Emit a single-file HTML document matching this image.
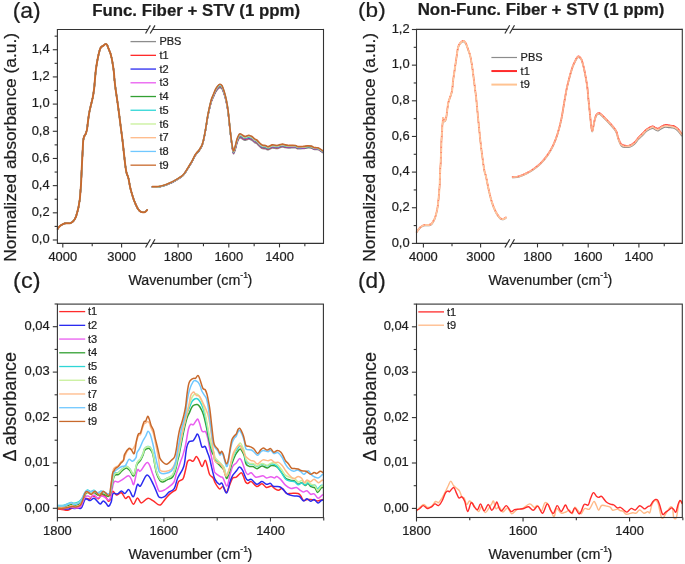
<!DOCTYPE html>
<html><head><meta charset="utf-8"><title>FTIR spectra</title>
<style>
html,body{margin:0;padding:0;background:#fff;}
svg{display:block;will-change:transform;}
text{font-family:'Liberation Sans', sans-serif;stroke:#1e1e1e;stroke-width:0.22px;}
</style></head>
<body>
<svg width="685" height="564" viewBox="0 0 685 564">
<rect width="685" height="564" fill="#fff"/>
<path d="M57.6,229 C57.83,228.67 58.37,227.67 59,227 C59.63,226.33 60.65,225.53 61.4,225 C62.15,224.47 62.8,224.08 63.5,223.8 C64.2,223.52 64.88,223.4 65.6,223.3 C66.32,223.2 67.08,223.2 67.8,223.2 C68.52,223.2 69.2,223.45 69.9,223.3 C70.6,223.15 71.35,222.77 72,222.3 C72.65,221.83 73.27,221.15 73.8,220.5 C74.33,219.85 74.78,219.22 75.2,218.4 C75.62,217.58 75.95,216.67 76.3,215.6 C76.65,214.53 76.95,213.3 77.3,212 C77.65,210.7 78.1,209.22 78.4,207.8 C78.7,206.38 78.87,204.92 79.1,203.5 C79.33,202.08 79.6,200.97 79.8,199.3 C80,197.63 80.1,195.95 80.3,193.5 C80.5,191.05 80.8,187.85 81,184.6 C81.2,181.35 81.33,177.55 81.5,174 C81.67,170.45 81.82,166.97 82,163.3 C82.18,159.63 82.42,155.55 82.6,152 C82.78,148.45 82.93,144.25 83.1,142 C83.27,139.75 83.43,139.38 83.6,138.5 C83.77,137.62 83.87,137.28 84.1,136.7 C84.33,136.12 84.7,135.53 85,135 C85.3,134.47 85.65,134.13 85.9,133.5 C86.15,132.87 86.32,131.85 86.5,131.2 C86.68,130.55 86.7,131.63 87,129.6 C87.3,127.57 87.9,121.95 88.3,119 C88.7,116.05 88.95,114.27 89.4,111.9 C89.85,109.53 90.45,107.17 91,104.8 C91.55,102.43 92.18,100.35 92.7,97.7 C93.22,95.05 93.73,91.85 94.1,88.9 C94.47,85.95 94.62,83.07 94.9,80 C95.18,76.93 95.45,73.42 95.8,70.5 C96.15,67.58 96.6,64.87 97,62.5 C97.4,60.13 97.77,58.3 98.2,56.3 C98.63,54.3 99.15,51.98 99.6,50.5 C100.05,49.02 100.27,48.22 100.9,47.4 C101.53,46.58 102.55,46.18 103.4,45.6 C104.25,45.02 105.33,43.9 106,43.9 C106.67,43.9 106.95,44.72 107.4,45.6 C107.85,46.48 108.18,47.87 108.7,49.2 C109.22,50.53 109.98,51.98 110.5,53.6 C111.02,55.22 111.4,56.98 111.8,58.9 C112.2,60.82 112.53,62.73 112.9,65.1 C113.27,67.47 113.73,70.62 114,73.1 C114.27,75.58 114.2,77.08 114.5,80 C114.8,82.92 115.28,86.77 115.8,90.6 C116.32,94.43 117.02,98.85 117.6,103 C118.18,107.15 118.72,111.07 119.3,115.5 C119.88,119.93 120.53,125.18 121.1,129.6 C121.67,134.02 122.08,136.73 122.7,142 C123.32,147.27 124.2,156.23 124.8,161.2 C125.4,166.17 125.7,168.97 126.3,171.8 C126.9,174.63 127.7,175.37 128.4,178.2 C129.1,181.03 129.62,185.25 130.5,188.8 C131.38,192.35 132.78,196.8 133.7,199.5 C134.62,202.2 135.28,203.42 136,205 C136.72,206.58 137.33,207.97 138,209 C138.67,210.03 139.3,210.67 140,211.2 C140.7,211.73 141.53,212.02 142.2,212.2 C142.87,212.38 143.47,212.37 144,212.3 C144.53,212.23 144.87,212.2 145.4,211.8 C145.93,211.4 146.9,210.22 147.2,209.9" fill="none" stroke="#8c8c8c" stroke-width="1.4" stroke-linejoin="round" stroke-linecap="round"/>
<path d="M152.3,187.12 C152.9,187.12 154.65,187.18 155.9,187.14 C157.15,187.1 158.35,187.13 159.8,186.87 C161.25,186.62 162.98,186.15 164.6,185.61 C166.22,185.07 167.87,184.37 169.5,183.65 C171.13,182.93 172.77,182.15 174.4,181.28 C176.03,180.41 177.83,179.39 179.3,178.42 C180.77,177.45 182.07,176.59 183.2,175.45 C184.33,174.31 185.13,173.01 186.1,171.57 C187.07,170.13 188.02,168.4 189,166.79 C189.98,165.19 191.1,163.55 192,161.93 C192.9,160.3 193.68,158.35 194.4,157.06 C195.12,155.77 195.57,155.14 196.3,154.18 C197.03,153.23 198.07,152.29 198.8,151.32 C199.53,150.34 200.13,149.32 200.7,148.34 C201.27,147.37 201.68,146.94 202.2,145.46 C202.72,143.99 203.22,142.15 203.8,139.48 C204.38,136.81 205.08,132.95 205.7,129.44 C206.32,125.93 206.92,121.6 207.5,118.4 C208.08,115.2 208.57,112.96 209.2,110.24 C209.83,107.52 210.58,104.28 211.3,102.06 C212.02,99.84 212.78,98.53 213.5,96.9 C214.22,95.27 214.9,93.55 215.6,92.26 C216.3,90.97 216.98,89.93 217.7,89.17 C218.42,88.41 219.18,87.76 219.9,87.69 C220.62,87.62 221.3,87.7 222,88.77 C222.7,89.84 223.38,91.87 224.1,94.12 C224.82,96.36 225.65,99.28 226.3,102.24 C226.95,105.2 227.48,108.2 228,111.9 C228.52,115.6 228.93,120.25 229.4,124.42 C229.87,128.59 230.33,133.11 230.8,136.94 C231.27,140.77 231.77,144.61 232.2,147.4 C232.63,150.19 232.92,153.22 233.4,153.7 C233.88,154.17 234.52,151.93 235.1,150.25 C235.68,148.57 236.33,145.39 236.9,143.6 C237.47,141.81 237.98,140.48 238.5,139.5 C239.02,138.52 239.38,137.8 240,137.7 C240.62,137.6 241.42,138.45 242.2,138.9 C242.98,139.35 243.97,140.24 244.7,140.4 C245.43,140.56 245.92,140.05 246.6,139.84 C247.28,139.64 248.08,139.17 248.8,139.17 C249.52,139.16 250.23,139.52 250.9,139.79 C251.57,140.07 252.18,140.36 252.8,140.82 C253.42,141.29 253.93,142.1 254.6,142.56 C255.27,143.02 256.13,143.11 256.8,143.58 C257.47,144.06 257.93,144.76 258.6,145.42 C259.27,146.08 260.13,147.01 260.8,147.54 C261.47,148.07 261.82,148.37 262.6,148.59 C263.38,148.8 264.65,148.61 265.5,148.82 C266.35,149.04 266.97,149.82 267.7,149.87 C268.43,149.92 269.17,149.42 269.9,149.12 C270.63,148.82 271.25,148.21 272.1,148.08 C272.95,147.94 274.15,148.23 275,148.31 C275.85,148.39 276.35,148.68 277.2,148.56 C278.05,148.44 279.18,147.86 280.1,147.6 C281.02,147.33 281.83,146.97 282.7,146.98 C283.57,146.99 284.38,147.49 285.3,147.66 C286.22,147.84 287.37,147.99 288.2,148.04 C289.03,148.08 289.08,147.98 290.3,147.94 C291.52,147.9 294.2,147.67 295.5,147.81 C296.8,147.95 296.78,148.68 298.1,148.8 C299.42,148.92 301.87,148.66 303.4,148.52 C304.93,148.38 305.98,148.03 307.3,147.96 C308.62,147.89 310.2,147.86 311.3,148.1 C312.4,148.33 313.03,149.1 313.9,149.36 C314.77,149.61 315.73,149.53 316.5,149.62 C317.27,149.71 317.78,149.62 318.5,149.89 C319.22,150.17 320.07,150.79 320.8,151.26 C321.53,151.73 322.55,152.49 322.9,152.73" fill="none" stroke="#8c8c8c" stroke-width="1.4" stroke-linejoin="round" stroke-linecap="round"/>
<path d="M57.6,229 C57.83,228.67 58.37,227.67 59,227 C59.63,226.33 60.65,225.53 61.4,225 C62.15,224.47 62.8,224.08 63.5,223.8 C64.2,223.52 64.88,223.4 65.6,223.3 C66.32,223.2 67.08,223.2 67.8,223.2 C68.52,223.2 69.2,223.45 69.9,223.3 C70.6,223.15 71.35,222.77 72,222.3 C72.65,221.83 73.27,221.15 73.8,220.5 C74.33,219.85 74.78,219.22 75.2,218.4 C75.62,217.58 75.95,216.67 76.3,215.6 C76.65,214.53 76.95,213.3 77.3,212 C77.65,210.7 78.1,209.22 78.4,207.8 C78.7,206.38 78.87,204.92 79.1,203.5 C79.33,202.08 79.6,200.97 79.8,199.3 C80,197.63 80.1,195.95 80.3,193.5 C80.5,191.05 80.8,187.85 81,184.6 C81.2,181.35 81.33,177.55 81.5,174 C81.67,170.45 81.82,166.97 82,163.3 C82.18,159.63 82.42,155.55 82.6,152 C82.78,148.45 82.93,144.25 83.1,142 C83.27,139.75 83.43,139.38 83.6,138.5 C83.77,137.62 83.87,137.28 84.1,136.7 C84.33,136.12 84.7,135.53 85,135 C85.3,134.47 85.65,134.13 85.9,133.5 C86.15,132.87 86.32,131.85 86.5,131.2 C86.68,130.55 86.7,131.63 87,129.6 C87.3,127.57 87.9,121.95 88.3,119 C88.7,116.05 88.95,114.27 89.4,111.9 C89.85,109.53 90.45,107.17 91,104.8 C91.55,102.43 92.18,100.35 92.7,97.7 C93.22,95.05 93.73,91.85 94.1,88.9 C94.47,85.95 94.62,83.07 94.9,80 C95.18,76.93 95.45,73.42 95.8,70.5 C96.15,67.58 96.6,64.87 97,62.5 C97.4,60.13 97.77,58.3 98.2,56.3 C98.63,54.3 99.15,51.98 99.6,50.5 C100.05,49.02 100.27,48.22 100.9,47.4 C101.53,46.58 102.55,46.18 103.4,45.6 C104.25,45.02 105.33,43.9 106,43.9 C106.67,43.9 106.95,44.72 107.4,45.6 C107.85,46.48 108.18,47.87 108.7,49.2 C109.22,50.53 109.98,51.98 110.5,53.6 C111.02,55.22 111.4,56.98 111.8,58.9 C112.2,60.82 112.53,62.73 112.9,65.1 C113.27,67.47 113.73,70.62 114,73.1 C114.27,75.58 114.2,77.08 114.5,80 C114.8,82.92 115.28,86.77 115.8,90.6 C116.32,94.43 117.02,98.85 117.6,103 C118.18,107.15 118.72,111.07 119.3,115.5 C119.88,119.93 120.53,125.18 121.1,129.6 C121.67,134.02 122.08,136.73 122.7,142 C123.32,147.27 124.2,156.23 124.8,161.2 C125.4,166.17 125.7,168.97 126.3,171.8 C126.9,174.63 127.7,175.37 128.4,178.2 C129.1,181.03 129.62,185.25 130.5,188.8 C131.38,192.35 132.78,196.8 133.7,199.5 C134.62,202.2 135.28,203.42 136,205 C136.72,206.58 137.33,207.97 138,209 C138.67,210.03 139.3,210.67 140,211.2 C140.7,211.73 141.53,212.02 142.2,212.2 C142.87,212.38 143.47,212.37 144,212.3 C144.53,212.23 144.87,212.2 145.4,211.8 C145.93,211.4 146.9,210.22 147.2,209.9" fill="none" stroke="#ff2b2b" stroke-width="1.4" stroke-linejoin="round" stroke-linecap="round"/>
<path d="M152.3,186.97 C152.9,186.98 154.65,187.04 155.9,186.99 C157.15,186.95 158.35,186.97 159.8,186.71 C161.25,186.45 162.98,185.98 164.6,185.44 C166.22,184.9 167.87,184.19 169.5,183.47 C171.13,182.74 172.77,181.97 174.4,181.09 C176.03,180.22 177.83,179.19 179.3,178.22 C180.77,177.24 182.07,176.38 183.2,175.24 C184.33,174.1 185.13,172.8 186.1,171.35 C187.07,169.91 188.02,168.18 189,166.57 C189.98,164.96 191.1,163.32 192,161.7 C192.9,160.07 193.68,158.11 194.4,156.82 C195.12,155.53 195.57,154.9 196.3,153.94 C197.03,152.98 198.07,152.04 198.8,151.06 C199.53,150.08 200.13,149.06 200.7,148.08 C201.27,147.1 201.68,146.67 202.2,145.19 C202.72,143.71 203.22,141.89 203.8,139.21 C204.38,136.53 205.08,132.66 205.7,129.12 C206.32,125.58 206.92,121.21 207.5,117.98 C208.08,114.75 208.57,112.48 209.2,109.72 C209.83,106.97 210.58,103.69 211.3,101.43 C212.02,99.16 212.78,97.81 213.5,96.14 C214.22,94.47 214.9,92.72 215.6,91.4 C216.3,90.09 216.98,89.04 217.7,88.25 C218.42,87.47 219.18,86.78 219.9,86.71 C220.62,86.65 221.3,86.78 222,87.88 C222.7,88.98 223.38,91.05 224.1,93.33 C224.82,95.61 225.65,98.56 226.3,101.56 C226.95,104.55 227.48,107.59 228,111.31 C228.52,115.04 228.93,119.71 229.4,123.91 C229.87,128.11 230.33,132.69 230.8,136.51 C231.27,140.33 231.77,144.07 232.2,146.81 C232.63,149.55 232.92,152.54 233.4,152.94 C233.88,153.35 234.52,151 235.1,149.26 C235.68,147.51 236.33,144.29 236.9,142.48 C237.47,140.67 237.98,139.36 238.5,138.38 C239.02,137.4 239.38,136.68 240,136.58 C240.62,136.48 241.42,137.33 242.2,137.78 C242.98,138.23 243.97,139.12 244.7,139.28 C245.43,139.44 245.92,138.94 246.6,138.74 C247.28,138.54 248.08,138.08 248.8,138.08 C249.52,138.08 250.23,138.45 250.9,138.73 C251.57,139.01 252.18,139.31 252.8,139.78 C253.42,140.25 253.93,141.07 254.6,141.54 C255.27,142 256.13,142.1 256.8,142.58 C257.47,143.06 257.93,143.77 258.6,144.43 C259.27,145.1 260.13,146.04 260.8,146.58 C261.47,147.11 261.82,147.42 262.6,147.64 C263.38,147.86 264.65,147.67 265.5,147.89 C266.35,148.11 266.97,148.9 267.7,148.96 C268.43,149.01 269.17,148.52 269.9,148.22 C270.63,147.93 271.25,147.32 272.1,147.19 C272.95,147.06 274.15,147.35 275,147.44 C275.85,147.53 276.35,147.82 277.2,147.7 C278.05,147.59 279.18,147.01 280.1,146.76 C281.02,146.5 281.83,146.15 282.7,146.17 C283.57,146.2 284.38,146.7 285.3,146.89 C286.22,147.08 287.37,147.24 288.2,147.3 C289.03,147.35 289.08,147.25 290.3,147.23 C291.52,147.21 294.2,147.01 295.5,147.16 C296.8,147.32 296.78,148.06 298.1,148.18 C299.42,148.31 301.87,148.06 303.4,147.92 C304.93,147.79 305.98,147.45 307.3,147.38 C308.62,147.32 310.2,147.3 311.3,147.54 C312.4,147.78 313.03,148.55 313.9,148.81 C314.77,149.07 315.73,148.99 316.5,149.08 C317.27,149.18 317.78,149.09 318.5,149.36 C319.22,149.64 320.07,150.26 320.8,150.74 C321.53,151.21 322.55,151.97 322.9,152.22" fill="none" stroke="#ff2b2b" stroke-width="1.4" stroke-linejoin="round" stroke-linecap="round"/>
<path d="M57.6,229 C57.83,228.67 58.37,227.67 59,227 C59.63,226.33 60.65,225.53 61.4,225 C62.15,224.47 62.8,224.08 63.5,223.8 C64.2,223.52 64.88,223.4 65.6,223.3 C66.32,223.2 67.08,223.2 67.8,223.2 C68.52,223.2 69.2,223.45 69.9,223.3 C70.6,223.15 71.35,222.77 72,222.3 C72.65,221.83 73.27,221.15 73.8,220.5 C74.33,219.85 74.78,219.22 75.2,218.4 C75.62,217.58 75.95,216.67 76.3,215.6 C76.65,214.53 76.95,213.3 77.3,212 C77.65,210.7 78.1,209.22 78.4,207.8 C78.7,206.38 78.87,204.92 79.1,203.5 C79.33,202.08 79.6,200.97 79.8,199.3 C80,197.63 80.1,195.95 80.3,193.5 C80.5,191.05 80.8,187.85 81,184.6 C81.2,181.35 81.33,177.55 81.5,174 C81.67,170.45 81.82,166.97 82,163.3 C82.18,159.63 82.42,155.55 82.6,152 C82.78,148.45 82.93,144.25 83.1,142 C83.27,139.75 83.43,139.38 83.6,138.5 C83.77,137.62 83.87,137.28 84.1,136.7 C84.33,136.12 84.7,135.53 85,135 C85.3,134.47 85.65,134.13 85.9,133.5 C86.15,132.87 86.32,131.85 86.5,131.2 C86.68,130.55 86.7,131.63 87,129.6 C87.3,127.57 87.9,121.95 88.3,119 C88.7,116.05 88.95,114.27 89.4,111.9 C89.85,109.53 90.45,107.17 91,104.8 C91.55,102.43 92.18,100.35 92.7,97.7 C93.22,95.05 93.73,91.85 94.1,88.9 C94.47,85.95 94.62,83.07 94.9,80 C95.18,76.93 95.45,73.42 95.8,70.5 C96.15,67.58 96.6,64.87 97,62.5 C97.4,60.13 97.77,58.3 98.2,56.3 C98.63,54.3 99.15,51.98 99.6,50.5 C100.05,49.02 100.27,48.22 100.9,47.4 C101.53,46.58 102.55,46.18 103.4,45.6 C104.25,45.02 105.33,43.9 106,43.9 C106.67,43.9 106.95,44.72 107.4,45.6 C107.85,46.48 108.18,47.87 108.7,49.2 C109.22,50.53 109.98,51.98 110.5,53.6 C111.02,55.22 111.4,56.98 111.8,58.9 C112.2,60.82 112.53,62.73 112.9,65.1 C113.27,67.47 113.73,70.62 114,73.1 C114.27,75.58 114.2,77.08 114.5,80 C114.8,82.92 115.28,86.77 115.8,90.6 C116.32,94.43 117.02,98.85 117.6,103 C118.18,107.15 118.72,111.07 119.3,115.5 C119.88,119.93 120.53,125.18 121.1,129.6 C121.67,134.02 122.08,136.73 122.7,142 C123.32,147.27 124.2,156.23 124.8,161.2 C125.4,166.17 125.7,168.97 126.3,171.8 C126.9,174.63 127.7,175.37 128.4,178.2 C129.1,181.03 129.62,185.25 130.5,188.8 C131.38,192.35 132.78,196.8 133.7,199.5 C134.62,202.2 135.28,203.42 136,205 C136.72,206.58 137.33,207.97 138,209 C138.67,210.03 139.3,210.67 140,211.2 C140.7,211.73 141.53,212.02 142.2,212.2 C142.87,212.38 143.47,212.37 144,212.3 C144.53,212.23 144.87,212.2 145.4,211.8 C145.93,211.4 146.9,210.22 147.2,209.9" fill="none" stroke="#2a2af0" stroke-width="1.4" stroke-linejoin="round" stroke-linecap="round"/>
<path d="M152.3,186.93 C152.9,186.93 154.65,186.99 155.9,186.94 C157.15,186.9 158.35,186.92 159.8,186.66 C161.25,186.4 162.98,185.93 164.6,185.38 C166.22,184.84 167.87,184.13 169.5,183.41 C171.13,182.68 172.77,181.91 174.4,181.03 C176.03,180.15 177.83,179.13 179.3,178.15 C180.77,177.18 182.07,176.32 183.2,175.17 C184.33,174.03 185.13,172.73 186.1,171.29 C187.07,169.84 188.02,168.11 189,166.5 C189.98,164.89 191.1,163.25 192,161.62 C192.9,159.99 193.68,158.03 194.4,156.74 C195.12,155.45 195.57,154.82 196.3,153.86 C197.03,152.9 198.07,151.96 198.8,150.98 C199.53,150 200.13,148.97 200.7,147.99 C201.27,147.02 201.68,146.59 202.2,145.11 C202.72,143.63 203.22,141.8 203.8,139.12 C204.38,136.44 205.08,132.56 205.7,129.02 C206.32,125.47 206.92,121.09 207.5,117.84 C208.08,114.6 208.57,112.33 209.2,109.56 C209.83,106.79 210.58,103.5 211.3,101.22 C212.02,98.95 212.78,97.58 213.5,95.9 C214.22,94.22 214.9,92.45 215.6,91.13 C216.3,89.8 216.98,88.75 217.7,87.96 C218.42,87.17 219.18,86.46 219.9,86.4 C220.62,86.34 221.3,86.48 222,87.59 C222.7,88.71 223.38,90.78 224.1,93.07 C224.82,95.36 225.65,98.33 226.3,101.34 C226.95,104.35 227.48,107.39 228,111.12 C228.52,114.86 228.93,119.54 229.4,123.75 C229.87,127.95 230.33,132.56 230.8,136.37 C231.27,140.18 231.77,143.9 232.2,146.62 C232.63,149.34 232.92,152.32 233.4,152.7 C233.88,153.09 234.52,150.7 235.1,148.94 C235.68,147.17 236.33,143.94 236.9,142.12 C237.47,140.3 237.98,139 238.5,138.02 C239.02,137.04 239.38,136.32 240,136.22 C240.62,136.12 241.42,136.97 242.2,137.42 C242.98,137.87 243.97,138.76 244.7,138.92 C245.43,139.08 245.92,138.58 246.6,138.38 C247.28,138.19 248.08,137.73 248.8,137.74 C249.52,137.74 250.23,138.1 250.9,138.39 C251.57,138.67 252.18,138.98 252.8,139.45 C253.42,139.92 253.93,140.74 254.6,141.21 C255.27,141.68 256.13,141.77 256.8,142.26 C257.47,142.74 257.93,143.45 258.6,144.12 C259.27,144.79 260.13,145.73 260.8,146.27 C261.47,146.8 261.82,147.11 262.6,147.33 C263.38,147.55 264.65,147.37 265.5,147.59 C266.35,147.81 266.97,148.61 267.7,148.66 C268.43,148.72 269.17,148.22 269.9,147.93 C270.63,147.64 271.25,147.03 272.1,146.9 C272.95,146.77 274.15,147.07 275,147.16 C275.85,147.25 276.35,147.54 277.2,147.43 C278.05,147.32 279.18,146.74 280.1,146.49 C281.02,146.23 281.83,145.89 282.7,145.91 C283.57,145.94 284.38,146.45 285.3,146.64 C286.22,146.83 287.37,147 288.2,147.06 C289.03,147.12 289.08,147.02 290.3,147 C291.52,146.98 294.2,146.79 295.5,146.96 C296.8,147.12 296.78,147.86 298.1,147.99 C299.42,148.11 301.87,147.87 303.4,147.73 C304.93,147.6 305.98,147.26 307.3,147.2 C308.62,147.13 310.2,147.12 311.3,147.36 C312.4,147.6 313.03,148.38 313.9,148.63 C314.77,148.89 315.73,148.82 316.5,148.91 C317.27,149 317.78,148.92 318.5,149.19 C319.22,149.47 320.07,150.1 320.8,150.57 C321.53,151.05 322.55,151.81 322.9,152.05" fill="none" stroke="#2a2af0" stroke-width="1.4" stroke-linejoin="round" stroke-linecap="round"/>
<path d="M57.6,229 C57.83,228.67 58.37,227.67 59,227 C59.63,226.33 60.65,225.53 61.4,225 C62.15,224.47 62.8,224.08 63.5,223.8 C64.2,223.52 64.88,223.4 65.6,223.3 C66.32,223.2 67.08,223.2 67.8,223.2 C68.52,223.2 69.2,223.45 69.9,223.3 C70.6,223.15 71.35,222.77 72,222.3 C72.65,221.83 73.27,221.15 73.8,220.5 C74.33,219.85 74.78,219.22 75.2,218.4 C75.62,217.58 75.95,216.67 76.3,215.6 C76.65,214.53 76.95,213.3 77.3,212 C77.65,210.7 78.1,209.22 78.4,207.8 C78.7,206.38 78.87,204.92 79.1,203.5 C79.33,202.08 79.6,200.97 79.8,199.3 C80,197.63 80.1,195.95 80.3,193.5 C80.5,191.05 80.8,187.85 81,184.6 C81.2,181.35 81.33,177.55 81.5,174 C81.67,170.45 81.82,166.97 82,163.3 C82.18,159.63 82.42,155.55 82.6,152 C82.78,148.45 82.93,144.25 83.1,142 C83.27,139.75 83.43,139.38 83.6,138.5 C83.77,137.62 83.87,137.28 84.1,136.7 C84.33,136.12 84.7,135.53 85,135 C85.3,134.47 85.65,134.13 85.9,133.5 C86.15,132.87 86.32,131.85 86.5,131.2 C86.68,130.55 86.7,131.63 87,129.6 C87.3,127.57 87.9,121.95 88.3,119 C88.7,116.05 88.95,114.27 89.4,111.9 C89.85,109.53 90.45,107.17 91,104.8 C91.55,102.43 92.18,100.35 92.7,97.7 C93.22,95.05 93.73,91.85 94.1,88.9 C94.47,85.95 94.62,83.07 94.9,80 C95.18,76.93 95.45,73.42 95.8,70.5 C96.15,67.58 96.6,64.87 97,62.5 C97.4,60.13 97.77,58.3 98.2,56.3 C98.63,54.3 99.15,51.98 99.6,50.5 C100.05,49.02 100.27,48.22 100.9,47.4 C101.53,46.58 102.55,46.18 103.4,45.6 C104.25,45.02 105.33,43.9 106,43.9 C106.67,43.9 106.95,44.72 107.4,45.6 C107.85,46.48 108.18,47.87 108.7,49.2 C109.22,50.53 109.98,51.98 110.5,53.6 C111.02,55.22 111.4,56.98 111.8,58.9 C112.2,60.82 112.53,62.73 112.9,65.1 C113.27,67.47 113.73,70.62 114,73.1 C114.27,75.58 114.2,77.08 114.5,80 C114.8,82.92 115.28,86.77 115.8,90.6 C116.32,94.43 117.02,98.85 117.6,103 C118.18,107.15 118.72,111.07 119.3,115.5 C119.88,119.93 120.53,125.18 121.1,129.6 C121.67,134.02 122.08,136.73 122.7,142 C123.32,147.27 124.2,156.23 124.8,161.2 C125.4,166.17 125.7,168.97 126.3,171.8 C126.9,174.63 127.7,175.37 128.4,178.2 C129.1,181.03 129.62,185.25 130.5,188.8 C131.38,192.35 132.78,196.8 133.7,199.5 C134.62,202.2 135.28,203.42 136,205 C136.72,206.58 137.33,207.97 138,209 C138.67,210.03 139.3,210.67 140,211.2 C140.7,211.73 141.53,212.02 142.2,212.2 C142.87,212.38 143.47,212.37 144,212.3 C144.53,212.23 144.87,212.2 145.4,211.8 C145.93,211.4 146.9,210.22 147.2,209.9" fill="none" stroke="#e95cf0" stroke-width="1.4" stroke-linejoin="round" stroke-linecap="round"/>
<path d="M152.3,186.88 C152.9,186.88 154.65,186.94 155.9,186.89 C157.15,186.85 158.35,186.87 159.8,186.61 C161.25,186.35 162.98,185.87 164.6,185.33 C166.22,184.79 167.87,184.08 169.5,183.35 C171.13,182.62 172.77,181.85 174.4,180.97 C176.03,180.09 177.83,179.07 179.3,178.09 C180.77,177.11 182.07,176.25 183.2,175.1 C184.33,173.96 185.13,172.66 186.1,171.22 C187.07,169.77 188.02,168.04 189,166.43 C189.98,164.82 191.1,163.17 192,161.55 C192.9,159.92 193.68,157.96 194.4,156.66 C195.12,155.37 195.57,154.74 196.3,153.78 C197.03,152.82 198.07,151.87 198.8,150.9 C199.53,149.92 200.13,148.89 200.7,147.91 C201.27,146.93 201.68,146.5 202.2,145.02 C202.72,143.54 203.22,141.72 203.8,139.03 C204.38,136.35 205.08,132.47 205.7,128.92 C206.32,125.36 206.92,120.96 207.5,117.71 C208.08,114.46 208.57,112.18 209.2,109.39 C209.83,106.61 210.58,103.31 211.3,101.02 C212.02,98.73 212.78,97.35 213.5,95.66 C214.22,93.96 214.9,92.18 215.6,90.85 C216.3,89.52 216.98,88.46 217.7,87.67 C218.42,86.87 219.18,86.14 219.9,86.08 C220.62,86.03 221.3,86.19 222,87.31 C222.7,88.43 223.38,90.52 224.1,92.82 C224.82,95.12 225.65,98.1 226.3,101.12 C226.95,104.14 227.48,107.19 228,110.93 C228.52,114.68 228.93,119.37 229.4,123.58 C229.87,127.8 230.33,132.42 230.8,136.23 C231.27,140.04 231.77,143.73 232.2,146.43 C232.63,149.14 232.92,152.09 233.4,152.46 C233.88,152.82 234.52,150.4 235.1,148.62 C235.68,146.83 236.33,143.59 236.9,141.76 C237.47,139.93 237.98,138.64 238.5,137.66 C239.02,136.68 239.38,135.96 240,135.86 C240.62,135.76 241.42,136.61 242.2,137.06 C242.98,137.51 243.97,138.4 244.7,138.56 C245.43,138.72 245.92,138.22 246.6,138.03 C247.28,137.83 248.08,137.38 248.8,137.39 C249.52,137.39 250.23,137.76 250.9,138.05 C251.57,138.33 252.18,138.64 252.8,139.11 C253.42,139.58 253.93,140.41 254.6,140.88 C255.27,141.35 256.13,141.45 256.8,141.94 C257.47,142.42 257.93,143.13 258.6,143.8 C259.27,144.47 260.13,145.42 260.8,145.96 C261.47,146.5 261.82,146.81 262.6,147.03 C263.38,147.25 264.65,147.07 265.5,147.29 C266.35,147.52 266.97,148.31 267.7,148.37 C268.43,148.43 269.17,147.93 269.9,147.64 C270.63,147.35 271.25,146.74 272.1,146.61 C272.95,146.49 274.15,146.79 275,146.88 C275.85,146.97 276.35,147.26 277.2,147.15 C278.05,147.04 279.18,146.47 280.1,146.22 C281.02,145.97 281.83,145.63 282.7,145.66 C283.57,145.68 284.38,146.2 285.3,146.39 C286.22,146.59 287.37,146.76 288.2,146.82 C289.03,146.89 289.08,146.79 290.3,146.77 C291.52,146.76 294.2,146.58 295.5,146.75 C296.8,146.92 296.78,147.65 298.1,147.79 C299.42,147.92 301.87,147.67 303.4,147.54 C304.93,147.41 305.98,147.07 307.3,147.01 C308.62,146.95 310.2,146.94 311.3,147.18 C312.4,147.42 313.03,148.2 313.9,148.46 C314.77,148.72 315.73,148.64 316.5,148.74 C317.27,148.83 317.78,148.74 318.5,149.02 C319.22,149.3 320.07,149.93 320.8,150.4 C321.53,150.88 322.55,151.64 322.9,151.89" fill="none" stroke="#e95cf0" stroke-width="1.4" stroke-linejoin="round" stroke-linecap="round"/>
<path d="M57.6,229 C57.83,228.67 58.37,227.67 59,227 C59.63,226.33 60.65,225.53 61.4,225 C62.15,224.47 62.8,224.08 63.5,223.8 C64.2,223.52 64.88,223.4 65.6,223.3 C66.32,223.2 67.08,223.2 67.8,223.2 C68.52,223.2 69.2,223.45 69.9,223.3 C70.6,223.15 71.35,222.77 72,222.3 C72.65,221.83 73.27,221.15 73.8,220.5 C74.33,219.85 74.78,219.22 75.2,218.4 C75.62,217.58 75.95,216.67 76.3,215.6 C76.65,214.53 76.95,213.3 77.3,212 C77.65,210.7 78.1,209.22 78.4,207.8 C78.7,206.38 78.87,204.92 79.1,203.5 C79.33,202.08 79.6,200.97 79.8,199.3 C80,197.63 80.1,195.95 80.3,193.5 C80.5,191.05 80.8,187.85 81,184.6 C81.2,181.35 81.33,177.55 81.5,174 C81.67,170.45 81.82,166.97 82,163.3 C82.18,159.63 82.42,155.55 82.6,152 C82.78,148.45 82.93,144.25 83.1,142 C83.27,139.75 83.43,139.38 83.6,138.5 C83.77,137.62 83.87,137.28 84.1,136.7 C84.33,136.12 84.7,135.53 85,135 C85.3,134.47 85.65,134.13 85.9,133.5 C86.15,132.87 86.32,131.85 86.5,131.2 C86.68,130.55 86.7,131.63 87,129.6 C87.3,127.57 87.9,121.95 88.3,119 C88.7,116.05 88.95,114.27 89.4,111.9 C89.85,109.53 90.45,107.17 91,104.8 C91.55,102.43 92.18,100.35 92.7,97.7 C93.22,95.05 93.73,91.85 94.1,88.9 C94.47,85.95 94.62,83.07 94.9,80 C95.18,76.93 95.45,73.42 95.8,70.5 C96.15,67.58 96.6,64.87 97,62.5 C97.4,60.13 97.77,58.3 98.2,56.3 C98.63,54.3 99.15,51.98 99.6,50.5 C100.05,49.02 100.27,48.22 100.9,47.4 C101.53,46.58 102.55,46.18 103.4,45.6 C104.25,45.02 105.33,43.9 106,43.9 C106.67,43.9 106.95,44.72 107.4,45.6 C107.85,46.48 108.18,47.87 108.7,49.2 C109.22,50.53 109.98,51.98 110.5,53.6 C111.02,55.22 111.4,56.98 111.8,58.9 C112.2,60.82 112.53,62.73 112.9,65.1 C113.27,67.47 113.73,70.62 114,73.1 C114.27,75.58 114.2,77.08 114.5,80 C114.8,82.92 115.28,86.77 115.8,90.6 C116.32,94.43 117.02,98.85 117.6,103 C118.18,107.15 118.72,111.07 119.3,115.5 C119.88,119.93 120.53,125.18 121.1,129.6 C121.67,134.02 122.08,136.73 122.7,142 C123.32,147.27 124.2,156.23 124.8,161.2 C125.4,166.17 125.7,168.97 126.3,171.8 C126.9,174.63 127.7,175.37 128.4,178.2 C129.1,181.03 129.62,185.25 130.5,188.8 C131.38,192.35 132.78,196.8 133.7,199.5 C134.62,202.2 135.28,203.42 136,205 C136.72,206.58 137.33,207.97 138,209 C138.67,210.03 139.3,210.67 140,211.2 C140.7,211.73 141.53,212.02 142.2,212.2 C142.87,212.38 143.47,212.37 144,212.3 C144.53,212.23 144.87,212.2 145.4,211.8 C145.93,211.4 146.9,210.22 147.2,209.9" fill="none" stroke="#33a033" stroke-width="1.4" stroke-linejoin="round" stroke-linecap="round"/>
<path d="M152.3,186.83 C152.9,186.83 154.65,186.89 155.9,186.84 C157.15,186.8 158.35,186.82 159.8,186.56 C161.25,186.3 162.98,185.82 164.6,185.27 C166.22,184.73 167.87,184.02 169.5,183.29 C171.13,182.56 172.77,181.79 174.4,180.91 C176.03,180.03 177.83,179 179.3,178.02 C180.77,177.05 182.07,176.18 183.2,175.04 C184.33,173.89 185.13,172.59 186.1,171.15 C187.07,169.7 188.02,167.97 189,166.36 C189.98,164.74 191.1,163.1 192,161.47 C192.9,159.84 193.68,157.88 194.4,156.59 C195.12,155.29 195.57,154.66 196.3,153.7 C197.03,152.74 198.07,151.79 198.8,150.81 C199.53,149.83 200.13,148.8 200.7,147.82 C201.27,146.84 201.68,146.41 202.2,144.93 C202.72,143.45 203.22,141.63 203.8,138.94 C204.38,136.26 205.08,132.37 205.7,128.81 C206.32,125.25 206.92,120.84 207.5,117.58 C208.08,114.31 208.57,112.02 209.2,109.23 C209.83,106.44 210.58,103.12 211.3,100.82 C212.02,98.51 212.78,97.12 213.5,95.42 C214.22,93.71 214.9,91.92 215.6,90.58 C216.3,89.24 216.98,88.17 217.7,87.37 C218.42,86.57 219.18,85.83 219.9,85.77 C220.62,85.71 221.3,85.89 222,87.02 C222.7,88.16 223.38,90.26 224.1,92.57 C224.82,94.88 225.65,97.87 226.3,100.9 C226.95,103.93 227.48,106.99 228,110.74 C228.52,114.5 228.93,119.19 229.4,123.42 C229.87,127.64 230.33,132.29 230.8,136.09 C231.27,139.9 231.77,143.56 232.2,146.25 C232.63,148.93 232.92,151.87 233.4,152.22 C233.88,152.56 234.52,150.1 235.1,148.3 C235.68,146.49 236.33,143.23 236.9,141.4 C237.47,139.57 237.98,138.28 238.5,137.3 C239.02,136.32 239.38,135.6 240,135.5 C240.62,135.4 241.42,136.25 242.2,136.7 C242.98,137.15 243.97,138.04 244.7,138.2 C245.43,138.36 245.92,137.87 246.6,137.67 C247.28,137.48 248.08,137.03 248.8,137.04 C249.52,137.04 250.23,137.42 250.9,137.71 C251.57,138 252.18,138.3 252.8,138.78 C253.42,139.25 253.93,140.07 254.6,140.55 C255.27,141.02 256.13,141.12 256.8,141.61 C257.47,142.1 257.93,142.81 258.6,143.48 C259.27,144.16 260.13,145.11 260.8,145.65 C261.47,146.19 261.82,146.5 262.6,146.72 C263.38,146.95 264.65,146.77 265.5,147 C266.35,147.22 266.97,148.01 267.7,148.07 C268.43,148.13 269.17,147.64 269.9,147.35 C270.63,147.06 271.25,146.45 272.1,146.33 C272.95,146.2 274.15,146.51 275,146.6 C275.85,146.69 276.35,146.99 277.2,146.88 C278.05,146.77 279.18,146.19 280.1,145.95 C281.02,145.7 281.83,145.36 282.7,145.4 C283.57,145.43 284.38,145.95 285.3,146.14 C286.22,146.34 287.37,146.52 288.2,146.59 C289.03,146.65 289.08,146.55 290.3,146.54 C291.52,146.54 294.2,146.37 295.5,146.54 C296.8,146.71 296.78,147.45 298.1,147.59 C299.42,147.72 301.87,147.48 303.4,147.35 C304.93,147.23 305.98,146.88 307.3,146.83 C308.62,146.77 310.2,146.76 311.3,147 C312.4,147.24 313.03,148.02 313.9,148.28 C314.77,148.54 315.73,148.47 316.5,148.56 C317.27,148.66 317.78,148.57 318.5,148.85 C319.22,149.13 320.07,149.76 320.8,150.24 C321.53,150.72 322.55,151.48 322.9,151.72" fill="none" stroke="#33a033" stroke-width="1.4" stroke-linejoin="round" stroke-linecap="round"/>
<path d="M57.6,229 C57.83,228.67 58.37,227.67 59,227 C59.63,226.33 60.65,225.53 61.4,225 C62.15,224.47 62.8,224.08 63.5,223.8 C64.2,223.52 64.88,223.4 65.6,223.3 C66.32,223.2 67.08,223.2 67.8,223.2 C68.52,223.2 69.2,223.45 69.9,223.3 C70.6,223.15 71.35,222.77 72,222.3 C72.65,221.83 73.27,221.15 73.8,220.5 C74.33,219.85 74.78,219.22 75.2,218.4 C75.62,217.58 75.95,216.67 76.3,215.6 C76.65,214.53 76.95,213.3 77.3,212 C77.65,210.7 78.1,209.22 78.4,207.8 C78.7,206.38 78.87,204.92 79.1,203.5 C79.33,202.08 79.6,200.97 79.8,199.3 C80,197.63 80.1,195.95 80.3,193.5 C80.5,191.05 80.8,187.85 81,184.6 C81.2,181.35 81.33,177.55 81.5,174 C81.67,170.45 81.82,166.97 82,163.3 C82.18,159.63 82.42,155.55 82.6,152 C82.78,148.45 82.93,144.25 83.1,142 C83.27,139.75 83.43,139.38 83.6,138.5 C83.77,137.62 83.87,137.28 84.1,136.7 C84.33,136.12 84.7,135.53 85,135 C85.3,134.47 85.65,134.13 85.9,133.5 C86.15,132.87 86.32,131.85 86.5,131.2 C86.68,130.55 86.7,131.63 87,129.6 C87.3,127.57 87.9,121.95 88.3,119 C88.7,116.05 88.95,114.27 89.4,111.9 C89.85,109.53 90.45,107.17 91,104.8 C91.55,102.43 92.18,100.35 92.7,97.7 C93.22,95.05 93.73,91.85 94.1,88.9 C94.47,85.95 94.62,83.07 94.9,80 C95.18,76.93 95.45,73.42 95.8,70.5 C96.15,67.58 96.6,64.87 97,62.5 C97.4,60.13 97.77,58.3 98.2,56.3 C98.63,54.3 99.15,51.98 99.6,50.5 C100.05,49.02 100.27,48.22 100.9,47.4 C101.53,46.58 102.55,46.18 103.4,45.6 C104.25,45.02 105.33,43.9 106,43.9 C106.67,43.9 106.95,44.72 107.4,45.6 C107.85,46.48 108.18,47.87 108.7,49.2 C109.22,50.53 109.98,51.98 110.5,53.6 C111.02,55.22 111.4,56.98 111.8,58.9 C112.2,60.82 112.53,62.73 112.9,65.1 C113.27,67.47 113.73,70.62 114,73.1 C114.27,75.58 114.2,77.08 114.5,80 C114.8,82.92 115.28,86.77 115.8,90.6 C116.32,94.43 117.02,98.85 117.6,103 C118.18,107.15 118.72,111.07 119.3,115.5 C119.88,119.93 120.53,125.18 121.1,129.6 C121.67,134.02 122.08,136.73 122.7,142 C123.32,147.27 124.2,156.23 124.8,161.2 C125.4,166.17 125.7,168.97 126.3,171.8 C126.9,174.63 127.7,175.37 128.4,178.2 C129.1,181.03 129.62,185.25 130.5,188.8 C131.38,192.35 132.78,196.8 133.7,199.5 C134.62,202.2 135.28,203.42 136,205 C136.72,206.58 137.33,207.97 138,209 C138.67,210.03 139.3,210.67 140,211.2 C140.7,211.73 141.53,212.02 142.2,212.2 C142.87,212.38 143.47,212.37 144,212.3 C144.53,212.23 144.87,212.2 145.4,211.8 C145.93,211.4 146.9,210.22 147.2,209.9" fill="none" stroke="#2fd6d6" stroke-width="1.4" stroke-linejoin="round" stroke-linecap="round"/>
<path d="M152.3,186.79 C152.9,186.79 154.65,186.84 155.9,186.8 C157.15,186.75 158.35,186.77 159.8,186.51 C161.25,186.24 162.98,185.77 164.6,185.22 C166.22,184.67 167.87,183.96 169.5,183.23 C171.13,182.5 172.77,181.72 174.4,180.85 C176.03,179.97 177.83,178.94 179.3,177.96 C180.77,176.98 182.07,176.12 183.2,174.97 C184.33,173.82 185.13,172.52 186.1,171.08 C187.07,169.63 188.02,167.9 189,166.29 C189.98,164.67 191.1,163.03 192,161.4 C192.9,159.77 193.68,157.81 194.4,156.51 C195.12,155.21 195.57,154.58 196.3,153.62 C197.03,152.66 198.07,151.71 198.8,150.73 C199.53,149.75 200.13,148.72 200.7,147.74 C201.27,146.76 201.68,146.33 202.2,144.85 C202.72,143.37 203.22,141.54 203.8,138.85 C204.38,136.16 205.08,132.28 205.7,128.71 C206.32,125.14 206.92,120.71 207.5,117.44 C208.08,114.17 208.57,111.87 209.2,109.06 C209.83,106.26 210.58,102.93 211.3,100.61 C212.02,98.3 212.78,96.89 213.5,95.17 C214.22,93.45 214.9,91.65 215.6,90.3 C216.3,88.95 216.98,87.88 217.7,87.08 C218.42,86.27 219.18,85.51 219.9,85.46 C220.62,85.4 221.3,85.6 222,86.74 C222.7,87.88 223.38,89.99 224.1,92.31 C224.82,94.64 225.65,97.64 226.3,100.68 C226.95,103.72 227.48,106.79 228,110.56 C228.52,114.32 228.93,119.02 229.4,123.26 C229.87,127.49 230.33,132.15 230.8,135.95 C231.27,139.75 231.77,143.39 232.2,146.06 C232.63,148.73 232.92,151.65 233.4,151.97 C233.88,152.29 234.52,149.8 235.1,147.98 C235.68,146.16 236.33,142.88 236.9,141.04 C237.47,139.2 237.98,137.92 238.5,136.94 C239.02,135.96 239.38,135.24 240,135.14 C240.62,135.04 241.42,135.89 242.2,136.34 C242.98,136.79 243.97,137.68 244.7,137.84 C245.43,138 245.92,137.51 246.6,137.32 C247.28,137.13 248.08,136.68 248.8,136.69 C249.52,136.7 250.23,137.07 250.9,137.37 C251.57,137.66 252.18,137.97 252.8,138.44 C253.42,138.92 253.93,139.74 254.6,140.22 C255.27,140.69 256.13,140.8 256.8,141.29 C257.47,141.78 257.93,142.49 258.6,143.17 C259.27,143.84 260.13,144.8 260.8,145.34 C261.47,145.88 261.82,146.19 262.6,146.42 C263.38,146.65 264.65,146.47 265.5,146.7 C266.35,146.92 266.97,147.72 267.7,147.78 C268.43,147.84 269.17,147.35 269.9,147.06 C270.63,146.77 271.25,146.17 272.1,146.04 C272.95,145.92 274.15,146.23 275,146.32 C275.85,146.41 276.35,146.71 277.2,146.6 C278.05,146.5 279.18,145.92 280.1,145.68 C281.02,145.43 281.83,145.1 282.7,145.14 C283.57,145.17 284.38,145.69 285.3,145.9 C286.22,146.1 287.37,146.28 288.2,146.35 C289.03,146.42 289.08,146.32 290.3,146.32 C291.52,146.31 294.2,146.15 295.5,146.33 C296.8,146.51 296.78,147.25 298.1,147.39 C299.42,147.53 301.87,147.29 303.4,147.16 C304.93,147.04 305.98,146.7 307.3,146.64 C308.62,146.58 310.2,146.57 311.3,146.82 C312.4,147.06 313.03,147.84 313.9,148.11 C314.77,148.37 315.73,148.3 316.5,148.39 C317.27,148.49 317.78,148.4 318.5,148.68 C319.22,148.96 320.07,149.59 320.8,150.07 C321.53,150.55 322.55,151.31 322.9,151.56" fill="none" stroke="#2fd6d6" stroke-width="1.4" stroke-linejoin="round" stroke-linecap="round"/>
<path d="M57.6,229 C57.83,228.67 58.37,227.67 59,227 C59.63,226.33 60.65,225.53 61.4,225 C62.15,224.47 62.8,224.08 63.5,223.8 C64.2,223.52 64.88,223.4 65.6,223.3 C66.32,223.2 67.08,223.2 67.8,223.2 C68.52,223.2 69.2,223.45 69.9,223.3 C70.6,223.15 71.35,222.77 72,222.3 C72.65,221.83 73.27,221.15 73.8,220.5 C74.33,219.85 74.78,219.22 75.2,218.4 C75.62,217.58 75.95,216.67 76.3,215.6 C76.65,214.53 76.95,213.3 77.3,212 C77.65,210.7 78.1,209.22 78.4,207.8 C78.7,206.38 78.87,204.92 79.1,203.5 C79.33,202.08 79.6,200.97 79.8,199.3 C80,197.63 80.1,195.95 80.3,193.5 C80.5,191.05 80.8,187.85 81,184.6 C81.2,181.35 81.33,177.55 81.5,174 C81.67,170.45 81.82,166.97 82,163.3 C82.18,159.63 82.42,155.55 82.6,152 C82.78,148.45 82.93,144.25 83.1,142 C83.27,139.75 83.43,139.38 83.6,138.5 C83.77,137.62 83.87,137.28 84.1,136.7 C84.33,136.12 84.7,135.53 85,135 C85.3,134.47 85.65,134.13 85.9,133.5 C86.15,132.87 86.32,131.85 86.5,131.2 C86.68,130.55 86.7,131.63 87,129.6 C87.3,127.57 87.9,121.95 88.3,119 C88.7,116.05 88.95,114.27 89.4,111.9 C89.85,109.53 90.45,107.17 91,104.8 C91.55,102.43 92.18,100.35 92.7,97.7 C93.22,95.05 93.73,91.85 94.1,88.9 C94.47,85.95 94.62,83.07 94.9,80 C95.18,76.93 95.45,73.42 95.8,70.5 C96.15,67.58 96.6,64.87 97,62.5 C97.4,60.13 97.77,58.3 98.2,56.3 C98.63,54.3 99.15,51.98 99.6,50.5 C100.05,49.02 100.27,48.22 100.9,47.4 C101.53,46.58 102.55,46.18 103.4,45.6 C104.25,45.02 105.33,43.9 106,43.9 C106.67,43.9 106.95,44.72 107.4,45.6 C107.85,46.48 108.18,47.87 108.7,49.2 C109.22,50.53 109.98,51.98 110.5,53.6 C111.02,55.22 111.4,56.98 111.8,58.9 C112.2,60.82 112.53,62.73 112.9,65.1 C113.27,67.47 113.73,70.62 114,73.1 C114.27,75.58 114.2,77.08 114.5,80 C114.8,82.92 115.28,86.77 115.8,90.6 C116.32,94.43 117.02,98.85 117.6,103 C118.18,107.15 118.72,111.07 119.3,115.5 C119.88,119.93 120.53,125.18 121.1,129.6 C121.67,134.02 122.08,136.73 122.7,142 C123.32,147.27 124.2,156.23 124.8,161.2 C125.4,166.17 125.7,168.97 126.3,171.8 C126.9,174.63 127.7,175.37 128.4,178.2 C129.1,181.03 129.62,185.25 130.5,188.8 C131.38,192.35 132.78,196.8 133.7,199.5 C134.62,202.2 135.28,203.42 136,205 C136.72,206.58 137.33,207.97 138,209 C138.67,210.03 139.3,210.67 140,211.2 C140.7,211.73 141.53,212.02 142.2,212.2 C142.87,212.38 143.47,212.37 144,212.3 C144.53,212.23 144.87,212.2 145.4,211.8 C145.93,211.4 146.9,210.22 147.2,209.9" fill="none" stroke="#c8f09a" stroke-width="1.4" stroke-linejoin="round" stroke-linecap="round"/>
<path d="M152.3,186.74 C152.9,186.74 154.65,186.79 155.9,186.75 C157.15,186.7 158.35,186.72 159.8,186.45 C161.25,186.19 162.98,185.71 164.6,185.16 C166.22,184.62 167.87,183.9 169.5,183.17 C171.13,182.44 172.77,181.66 174.4,180.78 C176.03,179.9 177.83,178.87 179.3,177.89 C180.77,176.91 182.07,176.05 183.2,174.9 C184.33,173.75 185.13,172.46 186.1,171.01 C187.07,169.56 188.02,167.83 189,166.21 C189.98,164.6 191.1,162.95 192,161.32 C192.9,159.69 193.68,157.73 194.4,156.43 C195.12,155.13 195.57,154.5 196.3,153.54 C197.03,152.57 198.07,151.63 198.8,150.65 C199.53,149.67 200.13,148.64 200.7,147.65 C201.27,146.67 201.68,146.24 202.2,144.76 C202.72,143.28 203.22,141.46 203.8,138.77 C204.38,136.07 205.08,132.18 205.7,128.61 C206.32,125.03 206.92,120.59 207.5,117.31 C208.08,114.02 208.57,111.71 209.2,108.9 C209.83,106.08 210.58,102.74 211.3,100.41 C212.02,98.08 212.78,96.66 213.5,94.93 C214.22,93.2 214.9,91.38 215.6,90.03 C216.3,88.67 216.98,87.6 217.7,86.78 C218.42,85.97 219.18,85.2 219.9,85.14 C220.62,85.09 221.3,85.3 222,86.45 C222.7,87.61 223.38,89.73 224.1,92.06 C224.82,94.39 225.65,97.41 226.3,100.46 C226.95,103.51 227.48,106.59 228,110.37 C228.52,114.14 228.93,118.85 229.4,123.09 C229.87,127.33 230.33,132.02 230.8,135.82 C231.27,139.61 231.77,143.21 232.2,145.87 C232.63,148.52 232.92,151.43 233.4,151.73 C233.88,152.03 234.52,149.5 235.1,147.66 C235.68,145.82 236.33,142.53 236.9,140.68 C237.47,138.83 237.98,137.56 238.5,136.58 C239.02,135.6 239.38,134.88 240,134.78 C240.62,134.68 241.42,135.53 242.2,135.98 C242.98,136.43 243.97,137.32 244.7,137.48 C245.43,137.64 245.92,137.15 246.6,136.96 C247.28,136.78 248.08,136.33 248.8,136.34 C249.52,136.35 250.23,136.73 250.9,137.02 C251.57,137.32 252.18,137.63 252.8,138.11 C253.42,138.58 253.93,139.41 254.6,139.89 C255.27,140.37 256.13,140.47 256.8,140.97 C257.47,141.46 257.93,142.17 258.6,142.85 C259.27,143.53 260.13,144.49 260.8,145.03 C261.47,145.57 261.82,145.89 262.6,146.11 C263.38,146.34 264.65,146.17 265.5,146.4 C266.35,146.63 266.97,147.42 267.7,147.48 C268.43,147.55 269.17,147.06 269.9,146.77 C270.63,146.48 271.25,145.88 272.1,145.76 C272.95,145.64 274.15,145.95 275,146.04 C275.85,146.13 276.35,146.43 277.2,146.33 C278.05,146.22 279.18,145.65 280.1,145.41 C281.02,145.17 281.83,144.84 282.7,144.88 C283.57,144.92 284.38,145.44 285.3,145.65 C286.22,145.85 287.37,146.04 288.2,146.11 C289.03,146.18 289.08,146.08 290.3,146.09 C291.52,146.09 294.2,145.94 295.5,146.12 C296.8,146.31 296.78,147.05 298.1,147.19 C299.42,147.33 301.87,147.09 303.4,146.97 C304.93,146.85 305.98,146.51 307.3,146.46 C308.62,146.4 310.2,146.39 311.3,146.64 C312.4,146.88 313.03,147.67 313.9,147.93 C314.77,148.19 315.73,148.12 316.5,148.22 C317.27,148.32 317.78,148.23 318.5,148.51 C319.22,148.79 320.07,149.42 320.8,149.9 C321.53,150.38 322.55,151.15 322.9,151.39" fill="none" stroke="#c8f09a" stroke-width="1.4" stroke-linejoin="round" stroke-linecap="round"/>
<path d="M57.6,229 C57.83,228.67 58.37,227.67 59,227 C59.63,226.33 60.65,225.53 61.4,225 C62.15,224.47 62.8,224.08 63.5,223.8 C64.2,223.52 64.88,223.4 65.6,223.3 C66.32,223.2 67.08,223.2 67.8,223.2 C68.52,223.2 69.2,223.45 69.9,223.3 C70.6,223.15 71.35,222.77 72,222.3 C72.65,221.83 73.27,221.15 73.8,220.5 C74.33,219.85 74.78,219.22 75.2,218.4 C75.62,217.58 75.95,216.67 76.3,215.6 C76.65,214.53 76.95,213.3 77.3,212 C77.65,210.7 78.1,209.22 78.4,207.8 C78.7,206.38 78.87,204.92 79.1,203.5 C79.33,202.08 79.6,200.97 79.8,199.3 C80,197.63 80.1,195.95 80.3,193.5 C80.5,191.05 80.8,187.85 81,184.6 C81.2,181.35 81.33,177.55 81.5,174 C81.67,170.45 81.82,166.97 82,163.3 C82.18,159.63 82.42,155.55 82.6,152 C82.78,148.45 82.93,144.25 83.1,142 C83.27,139.75 83.43,139.38 83.6,138.5 C83.77,137.62 83.87,137.28 84.1,136.7 C84.33,136.12 84.7,135.53 85,135 C85.3,134.47 85.65,134.13 85.9,133.5 C86.15,132.87 86.32,131.85 86.5,131.2 C86.68,130.55 86.7,131.63 87,129.6 C87.3,127.57 87.9,121.95 88.3,119 C88.7,116.05 88.95,114.27 89.4,111.9 C89.85,109.53 90.45,107.17 91,104.8 C91.55,102.43 92.18,100.35 92.7,97.7 C93.22,95.05 93.73,91.85 94.1,88.9 C94.47,85.95 94.62,83.07 94.9,80 C95.18,76.93 95.45,73.42 95.8,70.5 C96.15,67.58 96.6,64.87 97,62.5 C97.4,60.13 97.77,58.3 98.2,56.3 C98.63,54.3 99.15,51.98 99.6,50.5 C100.05,49.02 100.27,48.22 100.9,47.4 C101.53,46.58 102.55,46.18 103.4,45.6 C104.25,45.02 105.33,43.9 106,43.9 C106.67,43.9 106.95,44.72 107.4,45.6 C107.85,46.48 108.18,47.87 108.7,49.2 C109.22,50.53 109.98,51.98 110.5,53.6 C111.02,55.22 111.4,56.98 111.8,58.9 C112.2,60.82 112.53,62.73 112.9,65.1 C113.27,67.47 113.73,70.62 114,73.1 C114.27,75.58 114.2,77.08 114.5,80 C114.8,82.92 115.28,86.77 115.8,90.6 C116.32,94.43 117.02,98.85 117.6,103 C118.18,107.15 118.72,111.07 119.3,115.5 C119.88,119.93 120.53,125.18 121.1,129.6 C121.67,134.02 122.08,136.73 122.7,142 C123.32,147.27 124.2,156.23 124.8,161.2 C125.4,166.17 125.7,168.97 126.3,171.8 C126.9,174.63 127.7,175.37 128.4,178.2 C129.1,181.03 129.62,185.25 130.5,188.8 C131.38,192.35 132.78,196.8 133.7,199.5 C134.62,202.2 135.28,203.42 136,205 C136.72,206.58 137.33,207.97 138,209 C138.67,210.03 139.3,210.67 140,211.2 C140.7,211.73 141.53,212.02 142.2,212.2 C142.87,212.38 143.47,212.37 144,212.3 C144.53,212.23 144.87,212.2 145.4,211.8 C145.93,211.4 146.9,210.22 147.2,209.9" fill="none" stroke="#ffb987" stroke-width="1.4" stroke-linejoin="round" stroke-linecap="round"/>
<path d="M152.3,186.69 C152.9,186.69 154.65,186.75 155.9,186.7 C157.15,186.65 158.35,186.67 159.8,186.4 C161.25,186.14 162.98,185.66 164.6,185.11 C166.22,184.56 167.87,183.85 169.5,183.12 C171.13,182.39 172.77,181.6 174.4,180.72 C176.03,179.84 177.83,178.81 179.3,177.83 C180.77,176.85 182.07,175.98 183.2,174.83 C184.33,173.69 185.13,172.39 186.1,170.94 C187.07,169.49 188.02,167.76 189,166.14 C189.98,164.53 191.1,162.88 192,161.25 C192.9,159.62 193.68,157.65 194.4,156.35 C195.12,155.06 195.57,154.42 196.3,153.46 C197.03,152.49 198.07,151.55 198.8,150.57 C199.53,149.58 200.13,148.55 200.7,147.57 C201.27,146.59 201.68,146.16 202.2,144.67 C202.72,143.19 203.22,141.37 203.8,138.68 C204.38,135.98 205.08,132.09 205.7,128.51 C206.32,124.92 206.92,120.47 207.5,117.17 C208.08,113.87 208.57,111.56 209.2,108.73 C209.83,105.9 210.58,102.55 211.3,100.21 C212.02,97.87 212.78,96.43 213.5,94.69 C214.22,92.94 214.9,91.12 215.6,89.75 C216.3,88.38 216.98,87.31 217.7,86.49 C218.42,85.67 219.18,84.88 219.9,84.83 C220.62,84.78 221.3,85.01 222,86.17 C222.7,87.33 223.38,89.46 224.1,91.81 C224.82,94.15 225.65,97.18 226.3,100.24 C226.95,103.3 227.48,106.4 228,110.18 C228.52,113.96 228.93,118.68 229.4,122.93 C229.87,127.18 230.33,131.89 230.8,135.68 C231.27,139.47 231.77,143.04 232.2,145.68 C232.63,148.31 232.92,151.21 233.4,151.49 C233.88,151.76 234.52,149.2 235.1,147.34 C235.68,145.48 236.33,142.17 236.9,140.32 C237.47,138.47 237.98,137.2 238.5,136.22 C239.02,135.24 239.38,134.52 240,134.42 C240.62,134.32 241.42,135.17 242.2,135.62 C242.98,136.07 243.97,136.96 244.7,137.12 C245.43,137.28 245.92,136.8 246.6,136.61 C247.28,136.42 248.08,135.98 248.8,136 C249.52,136.01 250.23,136.39 250.9,136.68 C251.57,136.98 252.18,137.29 252.8,137.77 C253.42,138.25 253.93,139.08 254.6,139.56 C255.27,140.04 256.13,140.15 256.8,140.65 C257.47,141.14 257.93,141.85 258.6,142.53 C259.27,143.21 260.13,144.17 260.8,144.72 C261.47,145.27 261.82,145.58 262.6,145.81 C263.38,146.04 264.65,145.87 265.5,146.1 C266.35,146.33 266.97,147.13 267.7,147.19 C268.43,147.25 269.17,146.77 269.9,146.48 C270.63,146.19 271.25,145.59 272.1,145.47 C272.95,145.35 274.15,145.66 275,145.76 C275.85,145.86 276.35,146.15 277.2,146.05 C278.05,145.95 279.18,145.38 280.1,145.14 C281.02,144.9 281.83,144.58 282.7,144.62 C283.57,144.66 284.38,145.19 285.3,145.4 C286.22,145.61 287.37,145.8 288.2,145.87 C289.03,145.95 289.08,145.85 290.3,145.86 C291.52,145.86 294.2,145.73 295.5,145.92 C296.8,146.11 296.78,146.85 298.1,147 C299.42,147.14 301.87,146.9 303.4,146.78 C304.93,146.66 305.98,146.32 307.3,146.27 C308.62,146.22 310.2,146.21 311.3,146.46 C312.4,146.71 313.03,147.49 313.9,147.75 C314.77,148.02 315.73,147.95 316.5,148.05 C317.27,148.14 317.78,148.06 318.5,148.34 C319.22,148.62 320.07,149.25 320.8,149.73 C321.53,150.22 322.55,150.98 322.9,151.23" fill="none" stroke="#ffb987" stroke-width="1.4" stroke-linejoin="round" stroke-linecap="round"/>
<path d="M57.6,229 C57.83,228.67 58.37,227.67 59,227 C59.63,226.33 60.65,225.53 61.4,225 C62.15,224.47 62.8,224.08 63.5,223.8 C64.2,223.52 64.88,223.4 65.6,223.3 C66.32,223.2 67.08,223.2 67.8,223.2 C68.52,223.2 69.2,223.45 69.9,223.3 C70.6,223.15 71.35,222.77 72,222.3 C72.65,221.83 73.27,221.15 73.8,220.5 C74.33,219.85 74.78,219.22 75.2,218.4 C75.62,217.58 75.95,216.67 76.3,215.6 C76.65,214.53 76.95,213.3 77.3,212 C77.65,210.7 78.1,209.22 78.4,207.8 C78.7,206.38 78.87,204.92 79.1,203.5 C79.33,202.08 79.6,200.97 79.8,199.3 C80,197.63 80.1,195.95 80.3,193.5 C80.5,191.05 80.8,187.85 81,184.6 C81.2,181.35 81.33,177.55 81.5,174 C81.67,170.45 81.82,166.97 82,163.3 C82.18,159.63 82.42,155.55 82.6,152 C82.78,148.45 82.93,144.25 83.1,142 C83.27,139.75 83.43,139.38 83.6,138.5 C83.77,137.62 83.87,137.28 84.1,136.7 C84.33,136.12 84.7,135.53 85,135 C85.3,134.47 85.65,134.13 85.9,133.5 C86.15,132.87 86.32,131.85 86.5,131.2 C86.68,130.55 86.7,131.63 87,129.6 C87.3,127.57 87.9,121.95 88.3,119 C88.7,116.05 88.95,114.27 89.4,111.9 C89.85,109.53 90.45,107.17 91,104.8 C91.55,102.43 92.18,100.35 92.7,97.7 C93.22,95.05 93.73,91.85 94.1,88.9 C94.47,85.95 94.62,83.07 94.9,80 C95.18,76.93 95.45,73.42 95.8,70.5 C96.15,67.58 96.6,64.87 97,62.5 C97.4,60.13 97.77,58.3 98.2,56.3 C98.63,54.3 99.15,51.98 99.6,50.5 C100.05,49.02 100.27,48.22 100.9,47.4 C101.53,46.58 102.55,46.18 103.4,45.6 C104.25,45.02 105.33,43.9 106,43.9 C106.67,43.9 106.95,44.72 107.4,45.6 C107.85,46.48 108.18,47.87 108.7,49.2 C109.22,50.53 109.98,51.98 110.5,53.6 C111.02,55.22 111.4,56.98 111.8,58.9 C112.2,60.82 112.53,62.73 112.9,65.1 C113.27,67.47 113.73,70.62 114,73.1 C114.27,75.58 114.2,77.08 114.5,80 C114.8,82.92 115.28,86.77 115.8,90.6 C116.32,94.43 117.02,98.85 117.6,103 C118.18,107.15 118.72,111.07 119.3,115.5 C119.88,119.93 120.53,125.18 121.1,129.6 C121.67,134.02 122.08,136.73 122.7,142 C123.32,147.27 124.2,156.23 124.8,161.2 C125.4,166.17 125.7,168.97 126.3,171.8 C126.9,174.63 127.7,175.37 128.4,178.2 C129.1,181.03 129.62,185.25 130.5,188.8 C131.38,192.35 132.78,196.8 133.7,199.5 C134.62,202.2 135.28,203.42 136,205 C136.72,206.58 137.33,207.97 138,209 C138.67,210.03 139.3,210.67 140,211.2 C140.7,211.73 141.53,212.02 142.2,212.2 C142.87,212.38 143.47,212.37 144,212.3 C144.53,212.23 144.87,212.2 145.4,211.8 C145.93,211.4 146.9,210.22 147.2,209.9" fill="none" stroke="#70c8ff" stroke-width="1.4" stroke-linejoin="round" stroke-linecap="round"/>
<path d="M152.3,186.65 C152.9,186.65 154.65,186.7 155.9,186.65 C157.15,186.6 158.35,186.62 159.8,186.35 C161.25,186.09 162.98,185.6 164.6,185.05 C166.22,184.51 167.87,183.79 169.5,183.06 C171.13,182.33 172.77,181.54 174.4,180.66 C176.03,179.78 177.83,178.75 179.3,177.76 C180.77,176.78 182.07,175.92 183.2,174.77 C184.33,173.62 185.13,172.32 186.1,170.87 C187.07,169.42 188.02,167.69 189,166.07 C189.98,164.46 191.1,162.81 192,161.17 C192.9,159.54 193.68,157.58 194.4,156.28 C195.12,154.98 195.57,154.35 196.3,153.38 C197.03,152.41 198.07,151.47 198.8,150.48 C199.53,149.5 200.13,148.47 200.7,147.48 C201.27,146.5 201.68,146.07 202.2,144.59 C202.72,143.1 203.22,141.29 203.8,138.59 C204.38,135.89 205.08,131.99 205.7,128.4 C206.32,124.81 206.92,120.34 207.5,117.04 C208.08,113.73 208.57,111.4 209.2,108.57 C209.83,105.73 210.58,102.36 211.3,100 C212.02,97.65 212.78,96.2 213.5,94.44 C214.22,92.69 214.9,90.85 215.6,89.48 C216.3,88.1 216.98,87.02 217.7,86.19 C218.42,85.37 219.18,84.57 219.9,84.51 C220.62,84.46 221.3,84.71 222,85.88 C222.7,87.06 223.38,89.2 224.1,91.55 C224.82,93.91 225.65,96.95 226.3,100.02 C226.95,103.09 227.48,106.2 228,109.99 C228.52,113.78 228.93,118.51 229.4,122.76 C229.87,127.02 230.33,131.75 230.8,135.54 C231.27,139.33 231.77,142.87 232.2,145.49 C232.63,148.11 232.92,150.99 233.4,151.24 C233.88,151.5 234.52,148.9 235.1,147.02 C235.68,145.14 236.33,141.82 236.9,139.96 C237.47,138.1 237.98,136.84 238.5,135.86 C239.02,134.88 239.38,134.16 240,134.06 C240.62,133.96 241.42,134.81 242.2,135.26 C242.98,135.71 243.97,136.59 244.7,136.76 C245.43,136.93 245.92,136.44 246.6,136.25 C247.28,136.07 248.08,135.63 248.8,135.65 C249.52,135.66 250.23,136.04 250.9,136.34 C251.57,136.64 252.18,136.95 252.8,137.44 C253.42,137.92 253.93,138.75 254.6,139.23 C255.27,139.71 256.13,139.82 256.8,140.32 C257.47,140.82 257.93,141.54 258.6,142.22 C259.27,142.9 260.13,143.86 260.8,144.41 C261.47,144.96 261.82,145.27 262.6,145.5 C263.38,145.74 264.65,145.57 265.5,145.8 C266.35,146.03 266.97,146.83 267.7,146.89 C268.43,146.96 269.17,146.47 269.9,146.19 C270.63,145.91 271.25,145.3 272.1,145.19 C272.95,145.07 274.15,145.38 275,145.48 C275.85,145.58 276.35,145.88 277.2,145.78 C278.05,145.67 279.18,145.11 280.1,144.87 C281.02,144.63 281.83,144.31 282.7,144.36 C283.57,144.41 284.38,144.94 285.3,145.15 C286.22,145.36 287.37,145.56 288.2,145.64 C289.03,145.72 289.08,145.62 290.3,145.63 C291.52,145.64 294.2,145.51 295.5,145.71 C296.8,145.9 296.78,146.65 298.1,146.8 C299.42,146.94 301.87,146.71 303.4,146.59 C304.93,146.47 305.98,146.14 307.3,146.09 C308.62,146.03 310.2,146.03 311.3,146.28 C312.4,146.53 313.03,147.31 313.9,147.58 C314.77,147.84 315.73,147.77 316.5,147.87 C317.27,147.97 317.78,147.89 318.5,148.17 C319.22,148.45 320.07,149.09 320.8,149.57 C321.53,150.05 322.55,150.82 322.9,151.06" fill="none" stroke="#70c8ff" stroke-width="1.4" stroke-linejoin="round" stroke-linecap="round"/>
<path d="M57.6,229 C57.83,228.67 58.37,227.67 59,227 C59.63,226.33 60.65,225.53 61.4,225 C62.15,224.47 62.8,224.08 63.5,223.8 C64.2,223.52 64.88,223.4 65.6,223.3 C66.32,223.2 67.08,223.2 67.8,223.2 C68.52,223.2 69.2,223.45 69.9,223.3 C70.6,223.15 71.35,222.77 72,222.3 C72.65,221.83 73.27,221.15 73.8,220.5 C74.33,219.85 74.78,219.22 75.2,218.4 C75.62,217.58 75.95,216.67 76.3,215.6 C76.65,214.53 76.95,213.3 77.3,212 C77.65,210.7 78.1,209.22 78.4,207.8 C78.7,206.38 78.87,204.92 79.1,203.5 C79.33,202.08 79.6,200.97 79.8,199.3 C80,197.63 80.1,195.95 80.3,193.5 C80.5,191.05 80.8,187.85 81,184.6 C81.2,181.35 81.33,177.55 81.5,174 C81.67,170.45 81.82,166.97 82,163.3 C82.18,159.63 82.42,155.55 82.6,152 C82.78,148.45 82.93,144.25 83.1,142 C83.27,139.75 83.43,139.38 83.6,138.5 C83.77,137.62 83.87,137.28 84.1,136.7 C84.33,136.12 84.7,135.53 85,135 C85.3,134.47 85.65,134.13 85.9,133.5 C86.15,132.87 86.32,131.85 86.5,131.2 C86.68,130.55 86.7,131.63 87,129.6 C87.3,127.57 87.9,121.95 88.3,119 C88.7,116.05 88.95,114.27 89.4,111.9 C89.85,109.53 90.45,107.17 91,104.8 C91.55,102.43 92.18,100.35 92.7,97.7 C93.22,95.05 93.73,91.85 94.1,88.9 C94.47,85.95 94.62,83.07 94.9,80 C95.18,76.93 95.45,73.42 95.8,70.5 C96.15,67.58 96.6,64.87 97,62.5 C97.4,60.13 97.77,58.3 98.2,56.3 C98.63,54.3 99.15,51.98 99.6,50.5 C100.05,49.02 100.27,48.22 100.9,47.4 C101.53,46.58 102.55,46.18 103.4,45.6 C104.25,45.02 105.33,43.9 106,43.9 C106.67,43.9 106.95,44.72 107.4,45.6 C107.85,46.48 108.18,47.87 108.7,49.2 C109.22,50.53 109.98,51.98 110.5,53.6 C111.02,55.22 111.4,56.98 111.8,58.9 C112.2,60.82 112.53,62.73 112.9,65.1 C113.27,67.47 113.73,70.62 114,73.1 C114.27,75.58 114.2,77.08 114.5,80 C114.8,82.92 115.28,86.77 115.8,90.6 C116.32,94.43 117.02,98.85 117.6,103 C118.18,107.15 118.72,111.07 119.3,115.5 C119.88,119.93 120.53,125.18 121.1,129.6 C121.67,134.02 122.08,136.73 122.7,142 C123.32,147.27 124.2,156.23 124.8,161.2 C125.4,166.17 125.7,168.97 126.3,171.8 C126.9,174.63 127.7,175.37 128.4,178.2 C129.1,181.03 129.62,185.25 130.5,188.8 C131.38,192.35 132.78,196.8 133.7,199.5 C134.62,202.2 135.28,203.42 136,205 C136.72,206.58 137.33,207.97 138,209 C138.67,210.03 139.3,210.67 140,211.2 C140.7,211.73 141.53,212.02 142.2,212.2 C142.87,212.38 143.47,212.37 144,212.3 C144.53,212.23 144.87,212.2 145.4,211.8 C145.93,211.4 146.9,210.22 147.2,209.9" fill="none" stroke="#c8692c" stroke-width="1.9" stroke-linejoin="round" stroke-linecap="round"/>
<path d="M152.3,186.6 C152.9,186.6 154.65,186.65 155.9,186.6 C157.15,186.55 158.35,186.57 159.8,186.3 C161.25,186.03 162.98,185.55 164.6,185 C166.22,184.45 167.87,183.73 169.5,183 C171.13,182.27 172.77,181.48 174.4,180.6 C176.03,179.72 177.83,178.68 179.3,177.7 C180.77,176.72 182.07,175.85 183.2,174.7 C184.33,173.55 185.13,172.25 186.1,170.8 C187.07,169.35 188.02,167.62 189,166 C189.98,164.38 191.1,162.73 192,161.1 C192.9,159.47 193.68,157.5 194.4,156.2 C195.12,154.9 195.57,154.27 196.3,153.3 C197.03,152.33 198.07,151.38 198.8,150.4 C199.53,149.42 200.13,148.38 200.7,147.4 C201.27,146.42 201.68,145.98 202.2,144.5 C202.72,143.02 203.22,141.2 203.8,138.5 C204.38,135.8 205.08,131.9 205.7,128.3 C206.32,124.7 206.92,120.22 207.5,116.9 C208.08,113.58 208.57,111.25 209.2,108.4 C209.83,105.55 210.58,102.17 211.3,99.8 C212.02,97.43 212.78,95.97 213.5,94.2 C214.22,92.43 214.9,90.58 215.6,89.2 C216.3,87.82 216.98,86.73 217.7,85.9 C218.42,85.07 219.18,84.25 219.9,84.2 C220.62,84.15 221.3,84.42 222,85.6 C222.7,86.78 223.38,88.93 224.1,91.3 C224.82,93.67 225.65,96.72 226.3,99.8 C226.95,102.88 227.48,106 228,109.8 C228.52,113.6 228.93,118.33 229.4,122.6 C229.87,126.87 230.33,131.62 230.8,135.4 C231.27,139.18 231.77,142.7 232.2,145.3 C232.63,147.9 232.92,150.77 233.4,151 C233.88,151.23 234.52,148.6 235.1,146.7 C235.68,144.8 236.33,141.47 236.9,139.6 C237.47,137.73 237.98,136.48 238.5,135.5 C239.02,134.52 239.38,133.8 240,133.7 C240.62,133.6 241.42,134.45 242.2,134.9 C242.98,135.35 243.97,136.23 244.7,136.4 C245.43,136.57 245.92,136.08 246.6,135.9 C247.28,135.72 248.08,135.28 248.8,135.3 C249.52,135.32 250.23,135.7 250.9,136 C251.57,136.3 252.18,136.62 252.8,137.1 C253.42,137.58 253.93,138.42 254.6,138.9 C255.27,139.38 256.13,139.5 256.8,140 C257.47,140.5 257.93,141.22 258.6,141.9 C259.27,142.58 260.13,143.55 260.8,144.1 C261.47,144.65 261.82,144.97 262.6,145.2 C263.38,145.43 264.65,145.27 265.5,145.5 C266.35,145.73 266.97,146.53 267.7,146.6 C268.43,146.67 269.17,146.18 269.9,145.9 C270.63,145.62 271.25,145.02 272.1,144.9 C272.95,144.78 274.15,145.1 275,145.2 C275.85,145.3 276.35,145.6 277.2,145.5 C278.05,145.4 279.18,144.83 280.1,144.6 C281.02,144.37 281.83,144.05 282.7,144.1 C283.57,144.15 284.38,144.68 285.3,144.9 C286.22,145.12 287.37,145.32 288.2,145.4 C289.03,145.48 289.08,145.38 290.3,145.4 C291.52,145.42 294.2,145.3 295.5,145.5 C296.8,145.7 296.78,146.45 298.1,146.6 C299.42,146.75 301.87,146.52 303.4,146.4 C304.93,146.28 305.98,145.95 307.3,145.9 C308.62,145.85 310.2,145.85 311.3,146.1 C312.4,146.35 313.03,147.13 313.9,147.4 C314.77,147.67 315.73,147.6 316.5,147.7 C317.27,147.8 317.78,147.72 318.5,148 C319.22,148.28 320.07,148.92 320.8,149.4 C321.53,149.88 322.55,150.65 322.9,150.9" fill="none" stroke="#c8692c" stroke-width="1.6" stroke-linejoin="round" stroke-linecap="round"/>
<line x1="57.4" y1="28.9" x2="57.4" y2="243.95" stroke="#333333" stroke-width="1.1"/>
<line x1="323.5" y1="28.9" x2="323.5" y2="243.95" stroke="#333333" stroke-width="1.1"/>
<line x1="57.4" y1="29.45" x2="147.95" y2="29.45" stroke="#333333" stroke-width="1.1"/>
<line x1="152.6" y1="29.45" x2="323.5" y2="29.45" stroke="#333333" stroke-width="1.1"/>
<line x1="145.55" y1="33.55" x2="150.35" y2="25.35" stroke="#333333" stroke-width="1.2"/>
<line x1="150.2" y1="33.55" x2="155" y2="25.35" stroke="#333333" stroke-width="1.2"/>
<line x1="57.4" y1="243.4" x2="147.95" y2="243.4" stroke="#333333" stroke-width="1.1"/>
<line x1="152.6" y1="243.4" x2="323.5" y2="243.4" stroke="#333333" stroke-width="1.1"/>
<line x1="145.55" y1="247.5" x2="150.35" y2="239.3" stroke="#333333" stroke-width="1.2"/>
<line x1="150.2" y1="247.5" x2="155" y2="239.3" stroke="#333333" stroke-width="1.2"/>
<line x1="52.8" y1="240" x2="57.4" y2="240" stroke="#333333" stroke-width="1.1"/>
<text x="49.6" y="243.3" font-size="12.9" text-anchor="end" font-weight="normal" fill="#1e1e1e">0,0</text>
<line x1="52.8" y1="212.82" x2="57.4" y2="212.82" stroke="#333333" stroke-width="1.1"/>
<text x="49.6" y="216.12" font-size="12.9" text-anchor="end" font-weight="normal" fill="#1e1e1e">0,2</text>
<line x1="52.8" y1="185.64" x2="57.4" y2="185.64" stroke="#333333" stroke-width="1.1"/>
<text x="49.6" y="188.94" font-size="12.9" text-anchor="end" font-weight="normal" fill="#1e1e1e">0,4</text>
<line x1="52.8" y1="158.46" x2="57.4" y2="158.46" stroke="#333333" stroke-width="1.1"/>
<text x="49.6" y="161.76" font-size="12.9" text-anchor="end" font-weight="normal" fill="#1e1e1e">0,6</text>
<line x1="52.8" y1="131.28" x2="57.4" y2="131.28" stroke="#333333" stroke-width="1.1"/>
<text x="49.6" y="134.58" font-size="12.9" text-anchor="end" font-weight="normal" fill="#1e1e1e">0,8</text>
<line x1="52.8" y1="104.1" x2="57.4" y2="104.1" stroke="#333333" stroke-width="1.1"/>
<text x="49.6" y="107.4" font-size="12.9" text-anchor="end" font-weight="normal" fill="#1e1e1e">1,0</text>
<line x1="52.8" y1="76.92" x2="57.4" y2="76.92" stroke="#333333" stroke-width="1.1"/>
<text x="49.6" y="80.22" font-size="12.9" text-anchor="end" font-weight="normal" fill="#1e1e1e">1,2</text>
<line x1="52.8" y1="49.74" x2="57.4" y2="49.74" stroke="#333333" stroke-width="1.1"/>
<text x="49.6" y="53.04" font-size="12.9" text-anchor="end" font-weight="normal" fill="#1e1e1e">1,4</text>
<line x1="54.6" y1="226.41" x2="57.4" y2="226.41" stroke="#333333" stroke-width="1.1"/>
<line x1="54.6" y1="199.23" x2="57.4" y2="199.23" stroke="#333333" stroke-width="1.1"/>
<line x1="54.6" y1="172.05" x2="57.4" y2="172.05" stroke="#333333" stroke-width="1.1"/>
<line x1="54.6" y1="144.87" x2="57.4" y2="144.87" stroke="#333333" stroke-width="1.1"/>
<line x1="54.6" y1="117.69" x2="57.4" y2="117.69" stroke="#333333" stroke-width="1.1"/>
<line x1="54.6" y1="90.51" x2="57.4" y2="90.51" stroke="#333333" stroke-width="1.1"/>
<line x1="54.6" y1="63.33" x2="57.4" y2="63.33" stroke="#333333" stroke-width="1.1"/>
<line x1="54.6" y1="36.15" x2="57.4" y2="36.15" stroke="#333333" stroke-width="1.1"/>
<line x1="62.8" y1="243.4" x2="62.8" y2="247.4" stroke="#333333" stroke-width="1.1"/>
<text x="62.8" y="260.6" font-size="12.9" text-anchor="middle" font-weight="normal" fill="#1e1e1e">4000</text>
<line x1="121.6" y1="243.4" x2="121.6" y2="247.4" stroke="#333333" stroke-width="1.1"/>
<text x="121.6" y="260.6" font-size="12.9" text-anchor="middle" font-weight="normal" fill="#1e1e1e">3000</text>
<line x1="178.1" y1="243.4" x2="178.1" y2="247.4" stroke="#333333" stroke-width="1.1"/>
<text x="178.1" y="260.6" font-size="12.9" text-anchor="middle" font-weight="normal" fill="#1e1e1e">1800</text>
<line x1="228.8" y1="243.4" x2="228.8" y2="247.4" stroke="#333333" stroke-width="1.1"/>
<text x="228.8" y="260.6" font-size="12.9" text-anchor="middle" font-weight="normal" fill="#1e1e1e">1600</text>
<line x1="279.5" y1="243.4" x2="279.5" y2="247.4" stroke="#333333" stroke-width="1.1"/>
<text x="279.5" y="260.6" font-size="12.9" text-anchor="middle" font-weight="normal" fill="#1e1e1e">1400</text>
<line x1="92.2" y1="243.4" x2="92.2" y2="246.2" stroke="#333333" stroke-width="1.1"/>
<line x1="203.45" y1="243.4" x2="203.45" y2="246.2" stroke="#333333" stroke-width="1.1"/>
<line x1="254.15" y1="243.4" x2="254.15" y2="246.2" stroke="#333333" stroke-width="1.1"/>
<line x1="304.85" y1="243.4" x2="304.85" y2="246.2" stroke="#333333" stroke-width="1.1"/>
<line x1="130.5" y1="41.6" x2="156" y2="41.6" stroke="#8c8c8c" stroke-width="1.3"/>
<text x="159.4" y="45.2" font-size="11" text-anchor="start" font-weight="normal" fill="#1e1e1e">PBS</text>
<line x1="130.5" y1="55.33" x2="156" y2="55.33" stroke="#ff2b2b" stroke-width="1.3"/>
<text x="159.4" y="58.93" font-size="11" text-anchor="start" font-weight="normal" fill="#1e1e1e">t1</text>
<line x1="130.5" y1="69.06" x2="156" y2="69.06" stroke="#2a2af0" stroke-width="1.3"/>
<text x="159.4" y="72.66" font-size="11" text-anchor="start" font-weight="normal" fill="#1e1e1e">t2</text>
<line x1="130.5" y1="82.79" x2="156" y2="82.79" stroke="#e95cf0" stroke-width="1.3"/>
<text x="159.4" y="86.39" font-size="11" text-anchor="start" font-weight="normal" fill="#1e1e1e">t3</text>
<line x1="130.5" y1="96.52" x2="156" y2="96.52" stroke="#33a033" stroke-width="1.3"/>
<text x="159.4" y="100.12" font-size="11" text-anchor="start" font-weight="normal" fill="#1e1e1e">t4</text>
<line x1="130.5" y1="110.25" x2="156" y2="110.25" stroke="#2fd6d6" stroke-width="1.3"/>
<text x="159.4" y="113.85" font-size="11" text-anchor="start" font-weight="normal" fill="#1e1e1e">t5</text>
<line x1="130.5" y1="123.98" x2="156" y2="123.98" stroke="#c8f09a" stroke-width="1.3"/>
<text x="159.4" y="127.58" font-size="11" text-anchor="start" font-weight="normal" fill="#1e1e1e">t6</text>
<line x1="130.5" y1="137.71" x2="156" y2="137.71" stroke="#ffb987" stroke-width="1.3"/>
<text x="159.4" y="141.31" font-size="11" text-anchor="start" font-weight="normal" fill="#1e1e1e">t7</text>
<line x1="130.5" y1="151.44" x2="156" y2="151.44" stroke="#70c8ff" stroke-width="1.3"/>
<text x="159.4" y="155.04" font-size="11" text-anchor="start" font-weight="normal" fill="#1e1e1e">t8</text>
<line x1="130.5" y1="165.17" x2="156" y2="165.17" stroke="#c8692c" stroke-width="1.3"/>
<text x="159.4" y="168.77" font-size="11" text-anchor="start" font-weight="normal" fill="#1e1e1e">t9</text>
<text x="12.7" y="17.8" font-size="21.6" text-anchor="start" font-weight="normal" fill="#1e1e1e" textLength="28" lengthAdjust="spacingAndGlyphs">(a)</text>
<text x="92.2" y="15.9" font-size="16" text-anchor="start" font-weight="bold" fill="#1e1e1e" textLength="207.8" lengthAdjust="spacingAndGlyphs">Func. Fiber + STV (1 ppm)</text>
<text transform="translate(16.3,261.7) rotate(-90)" x="0" y="0" font-size="17.3" fill="#1e1e1e" textLength="228.8" lengthAdjust="spacingAndGlyphs">Normalized absorbance (a.u.)</text>
<text x="128.4" y="284.5" font-size="14.25" fill="#1e1e1e">Wavenumber (cm<tspan dx="0" dy="-6.6" font-size="8.6">-1</tspan><tspan dx="-0.4" dy="6.6">)</tspan></text>
<path d="M416.6,232.7 C416.83,232.35 417.43,231.33 418,230.6 C418.57,229.87 419.28,228.97 420,228.3 C420.72,227.63 421.53,227.03 422.3,226.6 C423.07,226.17 423.82,225.87 424.6,225.7 C425.38,225.53 426.25,225.62 427,225.6 C427.75,225.58 428.47,225.7 429.1,225.6 C429.73,225.5 430.3,225.3 430.8,225 C431.3,224.7 431.5,224.63 432.1,223.8 C432.7,222.97 433.7,221.63 434.4,220 C435.1,218.37 435.73,216.27 436.3,214 C436.87,211.73 437.37,209.42 437.8,206.4 C438.23,203.38 438.58,199.42 438.9,195.9 C439.22,192.38 439.5,189.08 439.7,185.3 C439.9,181.52 439.93,176.97 440.1,173.2 C440.27,169.43 440.52,166.47 440.7,162.7 C440.88,158.93 441.07,154.35 441.2,150.6 C441.33,146.85 441.37,143.1 441.5,140.2 C441.63,137.3 441.85,135.55 442,133.2 C442.15,130.85 442.25,128.18 442.4,126.1 C442.55,124.02 442.75,121.97 442.9,120.7 C443.05,119.43 443.08,118.35 443.3,118.5 C443.52,118.65 443.83,121.23 444.2,121.6 C444.57,121.97 445.13,121.43 445.5,120.7 C445.87,119.97 446.1,118.97 446.4,117.2 C446.7,115.43 447,112.32 447.3,110.1 C447.6,107.88 447.83,105.67 448.2,103.9 C448.57,102.13 449.07,100.83 449.5,99.5 C449.93,98.17 450.35,97.38 450.8,95.9 C451.25,94.42 451.83,92.92 452.2,90.6 C452.57,88.28 452.57,85.5 453,82 C453.43,78.5 454.2,73.73 454.8,69.6 C455.4,65.47 456.07,60.75 456.6,57.2 C457.13,53.65 457.42,50.52 458,48.3 C458.58,46.08 459.22,45.02 460.1,43.9 C460.98,42.78 462.35,41.6 463.3,41.6 C464.25,41.6 465,42.48 465.8,43.9 C466.6,45.32 467.33,47.88 468.1,50.1 C468.87,52.32 469.67,53.95 470.4,57.2 C471.13,60.45 471.85,65.17 472.5,69.6 C473.15,74.03 473.7,79.07 474.3,83.8 C474.9,88.53 475.52,92.68 476.1,98 C476.68,103.32 477.28,110.38 477.8,115.7 C478.32,121.02 478.67,124.7 479.2,129.9 C479.73,135.1 480.17,140.17 481,146.9 C481.83,153.63 483.38,165.33 484.2,170.3 C485.02,175.27 485.18,173.52 485.9,176.7 C486.62,179.88 487.53,185.15 488.5,189.4 C489.47,193.65 490.47,198.3 491.7,202.2 C492.93,206.1 494.48,210.03 495.9,212.8 C497.32,215.57 498.95,217.67 500.2,218.8 C501.45,219.93 502.45,219.7 503.4,219.6 C504.35,219.5 505.48,218.43 505.9,218.2" fill="none" stroke="#8c8c8c" stroke-width="1.2" stroke-linejoin="round" stroke-linecap="round"/>
<path d="M512.6,177.74 C513.7,177.61 516.92,177.56 519.2,176.94 C521.48,176.32 523.93,175.22 526.3,174.04 C528.67,172.86 531.03,171.49 533.4,169.84 C535.77,168.19 538.13,166.51 540.5,164.14 C542.87,161.77 545.47,158.72 547.6,155.64 C549.73,152.56 551.63,149.19 553.3,145.64 C554.97,142.09 556.27,138.61 557.6,134.34 C558.93,130.07 560.12,125.73 561.3,120.05 C562.48,114.37 563.8,105.39 564.7,100.26 C565.6,95.13 566.07,92.35 566.7,89.27 C567.33,86.19 567.85,84.33 568.5,81.78 C569.15,79.23 569.88,76.47 570.6,73.99 C571.32,71.51 572.08,68.84 572.8,66.9 C573.52,64.95 574.25,63.65 574.9,62.31 C575.55,60.96 576.13,59.65 576.7,58.82 C577.27,57.98 577.72,57.39 578.3,57.32 C578.88,57.26 579.65,57.9 580.2,58.43 C580.75,58.97 581.18,59.59 581.6,60.54 C582.02,61.49 582.28,62.61 582.7,64.14 C583.12,65.68 583.63,67.63 584.1,69.75 C584.57,71.87 585.08,74.6 585.5,76.85 C585.92,79.11 586.27,81.17 586.6,83.26 C586.93,85.34 587.22,86.8 587.5,89.36 C587.78,91.93 587.85,94 588.3,98.67 C588.75,103.34 589.68,112.42 590.2,117.38 C590.72,122.33 591.02,126.03 591.4,128.38 C591.78,130.73 592.03,132.4 592.5,131.49 C592.97,130.57 593.58,125.47 594.2,122.89 C594.82,120.31 595.4,117.45 596.2,116 C597,114.56 598.07,114.21 599,114.22 C599.93,114.22 600.75,115.17 601.8,116.05 C602.85,116.94 604.03,118.23 605.3,119.52 C606.57,120.8 608.02,122.26 609.4,123.79 C610.78,125.31 612.43,127.14 613.6,128.66 C614.77,130.19 615.6,131.05 616.4,132.92 C617.2,134.78 617.6,137.71 618.4,139.85 C619.2,142 620.15,144.55 621.2,145.79 C622.25,147.04 623.2,147.13 624.7,147.32 C626.2,147.52 628.58,147.49 630.2,146.97 C631.82,146.45 633.02,145.48 634.4,144.21 C635.78,142.94 637.12,140.83 638.5,139.35 C639.88,137.86 641.3,136.66 642.7,135.28 C644.1,133.91 645.28,132.27 646.9,131.12 C648.52,129.97 651.02,128.59 652.4,128.37 C653.78,128.15 654.27,129.39 655.2,129.8 C656.13,130.21 657.08,130.93 658,130.82 C658.92,130.71 659.55,129.75 660.7,129.14 C661.85,128.53 663.5,127.41 664.9,127.14 C666.3,126.87 667.72,127.39 669.1,127.54 C670.48,127.69 671.82,127.54 673.2,128.04 C674.58,128.54 675.97,129.22 677.4,130.54 C678.83,131.86 681.07,135.04 681.8,135.94" fill="none" stroke="#8c8c8c" stroke-width="1.2" stroke-linejoin="round" stroke-linecap="round"/>
<path d="M416.6,231.8 C416.83,231.45 417.43,230.43 418,229.7 C418.57,228.97 419.28,228.07 420,227.4 C420.72,226.73 421.53,226.13 422.3,225.7 C423.07,225.27 423.82,224.97 424.6,224.8 C425.38,224.63 426.25,224.72 427,224.7 C427.75,224.68 428.47,224.8 429.1,224.7 C429.73,224.6 430.3,224.4 430.8,224.1 C431.3,223.8 431.5,223.73 432.1,222.9 C432.7,222.07 433.7,220.73 434.4,219.1 C435.1,217.47 435.73,215.37 436.3,213.1 C436.87,210.83 437.37,208.52 437.8,205.5 C438.23,202.48 438.58,198.52 438.9,195 C439.22,191.48 439.5,188.18 439.7,184.4 C439.9,180.62 439.93,176.07 440.1,172.3 C440.27,168.53 440.52,165.57 440.7,161.8 C440.88,158.03 441.07,153.45 441.2,149.7 C441.33,145.95 441.37,142.2 441.5,139.3 C441.63,136.4 441.85,134.65 442,132.3 C442.15,129.95 442.25,127.28 442.4,125.2 C442.55,123.12 442.75,121.07 442.9,119.8 C443.05,118.53 443.08,117.45 443.3,117.6 C443.52,117.75 443.83,120.33 444.2,120.7 C444.57,121.07 445.13,120.53 445.5,119.8 C445.87,119.07 446.1,118.07 446.4,116.3 C446.7,114.53 447,111.42 447.3,109.2 C447.6,106.98 447.83,104.77 448.2,103 C448.57,101.23 449.07,99.93 449.5,98.6 C449.93,97.27 450.35,96.48 450.8,95 C451.25,93.52 451.83,92.02 452.2,89.7 C452.57,87.38 452.57,84.6 453,81.1 C453.43,77.6 454.2,72.83 454.8,68.7 C455.4,64.57 456.07,59.85 456.6,56.3 C457.13,52.75 457.42,49.62 458,47.4 C458.58,45.18 459.22,44.12 460.1,43 C460.98,41.88 462.35,40.7 463.3,40.7 C464.25,40.7 465,41.58 465.8,43 C466.6,44.42 467.33,46.98 468.1,49.2 C468.87,51.42 469.67,53.05 470.4,56.3 C471.13,59.55 471.85,64.27 472.5,68.7 C473.15,73.13 473.7,78.17 474.3,82.9 C474.9,87.63 475.52,91.78 476.1,97.1 C476.68,102.42 477.28,109.48 477.8,114.8 C478.32,120.12 478.67,123.8 479.2,129 C479.73,134.2 480.17,139.27 481,146 C481.83,152.73 483.38,164.43 484.2,169.4 C485.02,174.37 485.18,172.62 485.9,175.8 C486.62,178.98 487.53,184.25 488.5,188.5 C489.47,192.75 490.47,197.4 491.7,201.3 C492.93,205.2 494.48,209.13 495.9,211.9 C497.32,214.67 498.95,216.77 500.2,217.9 C501.45,219.03 502.45,218.8 503.4,218.7 C504.35,218.6 505.48,217.53 505.9,217.3" fill="none" stroke="#ff2b2b" stroke-width="1.3" stroke-linejoin="round" stroke-linecap="round"/>
<path d="M512.6,176.9 C513.7,176.77 516.92,176.72 519.2,176.1 C521.48,175.48 523.93,174.38 526.3,173.2 C528.67,172.02 531.03,170.65 533.4,169 C535.77,167.35 538.13,165.67 540.5,163.3 C542.87,160.93 545.47,157.88 547.6,154.8 C549.73,151.72 551.63,148.35 553.3,144.8 C554.97,141.25 556.27,137.77 557.6,133.5 C558.93,129.23 560.12,124.88 561.3,119.2 C562.48,113.51 563.8,104.52 564.7,99.39 C565.6,94.25 566.07,91.47 566.7,88.38 C567.33,85.3 567.85,83.43 568.5,80.88 C569.15,78.33 569.88,75.56 570.6,73.07 C571.32,70.59 572.08,67.92 572.8,65.97 C573.52,64.02 574.25,62.71 574.9,61.36 C575.55,60.01 576.13,58.69 576.7,57.86 C577.27,57.02 577.72,56.42 578.3,56.35 C578.88,56.29 579.65,56.92 580.2,57.45 C580.75,57.98 581.18,58.6 581.6,59.55 C582.02,60.49 582.28,61.61 582.7,63.14 C583.12,64.68 583.63,66.62 584.1,68.74 C584.57,70.86 585.08,73.59 585.5,75.84 C585.92,78.09 586.27,80.15 586.6,82.23 C586.93,84.32 587.22,85.77 587.5,88.33 C587.78,90.9 587.85,92.96 588.3,97.63 C588.75,102.29 589.68,111.38 590.2,116.32 C590.72,121.27 591.02,124.97 591.4,127.32 C591.78,129.67 592.03,131.34 592.5,130.42 C592.97,129.5 593.58,124.4 594.2,121.81 C594.82,119.23 595.4,116.36 596.2,114.91 C597,113.46 598.07,113.11 599,113.1 C599.93,113.1 600.75,114.02 601.8,114.88 C602.85,115.74 604.03,116.99 605.3,118.25 C606.57,119.5 608.02,120.92 609.4,122.41 C610.78,123.89 612.43,125.68 613.6,127.16 C614.77,128.65 615.6,129.49 616.4,131.34 C617.2,133.18 617.6,136.09 618.4,138.22 C619.2,140.34 620.15,142.87 621.2,144.09 C622.25,145.32 623.2,145.4 624.7,145.58 C626.2,145.75 628.58,145.69 630.2,145.15 C631.82,144.61 633.02,143.62 634.4,142.33 C635.78,141.04 637.12,138.91 638.5,137.41 C639.88,135.9 641.3,134.68 642.7,133.29 C644.1,131.9 645.28,130.24 646.9,129.07 C648.52,127.89 651.02,126.48 652.4,126.24 C653.78,126 654.27,127.23 655.2,127.62 C656.13,128.02 657.08,128.73 658,128.61 C658.92,128.49 659.55,127.52 660.7,126.9 C661.85,126.28 663.5,125.17 664.9,124.9 C666.3,124.63 667.72,125.15 669.1,125.3 C670.48,125.45 671.82,125.3 673.2,125.8 C674.58,126.3 675.97,126.98 677.4,128.3 C678.83,129.62 681.07,132.8 681.8,133.7" fill="none" stroke="#ff2b2b" stroke-width="1.5" stroke-linejoin="round" stroke-linecap="round"/>
<path d="M416.6,232.1 C416.83,231.75 417.43,230.73 418,230 C418.57,229.27 419.28,228.37 420,227.7 C420.72,227.03 421.53,226.43 422.3,226 C423.07,225.57 423.82,225.27 424.6,225.1 C425.38,224.93 426.25,225.02 427,225 C427.75,224.98 428.47,225.1 429.1,225 C429.73,224.9 430.3,224.7 430.8,224.4 C431.3,224.1 431.5,224.03 432.1,223.2 C432.7,222.37 433.7,221.03 434.4,219.4 C435.1,217.77 435.73,215.67 436.3,213.4 C436.87,211.13 437.37,208.82 437.8,205.8 C438.23,202.78 438.58,198.82 438.9,195.3 C439.22,191.78 439.5,188.48 439.7,184.7 C439.9,180.92 439.93,176.37 440.1,172.6 C440.27,168.83 440.52,165.87 440.7,162.1 C440.88,158.33 441.07,153.75 441.2,150 C441.33,146.25 441.37,142.5 441.5,139.6 C441.63,136.7 441.85,134.95 442,132.6 C442.15,130.25 442.25,127.58 442.4,125.5 C442.55,123.42 442.75,121.37 442.9,120.1 C443.05,118.83 443.08,117.75 443.3,117.9 C443.52,118.05 443.83,120.63 444.2,121 C444.57,121.37 445.13,120.83 445.5,120.1 C445.87,119.37 446.1,118.37 446.4,116.6 C446.7,114.83 447,111.72 447.3,109.5 C447.6,107.28 447.83,105.07 448.2,103.3 C448.57,101.53 449.07,100.23 449.5,98.9 C449.93,97.57 450.35,96.78 450.8,95.3 C451.25,93.82 451.83,92.32 452.2,90 C452.57,87.68 452.57,84.9 453,81.4 C453.43,77.9 454.2,73.13 454.8,69 C455.4,64.87 456.07,60.15 456.6,56.6 C457.13,53.05 457.42,49.92 458,47.7 C458.58,45.48 459.22,44.42 460.1,43.3 C460.98,42.18 462.35,41 463.3,41 C464.25,41 465,41.88 465.8,43.3 C466.6,44.72 467.33,47.28 468.1,49.5 C468.87,51.72 469.67,53.35 470.4,56.6 C471.13,59.85 471.85,64.57 472.5,69 C473.15,73.43 473.7,78.47 474.3,83.2 C474.9,87.93 475.52,92.08 476.1,97.4 C476.68,102.72 477.28,109.78 477.8,115.1 C478.32,120.42 478.67,124.1 479.2,129.3 C479.73,134.5 480.17,139.57 481,146.3 C481.83,153.03 483.38,164.73 484.2,169.7 C485.02,174.67 485.18,172.92 485.9,176.1 C486.62,179.28 487.53,184.55 488.5,188.8 C489.47,193.05 490.47,197.7 491.7,201.6 C492.93,205.5 494.48,209.43 495.9,212.2 C497.32,214.97 498.95,217.07 500.2,218.2 C501.45,219.33 502.45,219.1 503.4,219 C504.35,218.9 505.48,217.83 505.9,217.6" fill="none" stroke="#ffc49c" stroke-width="2.0" stroke-linejoin="round" stroke-linecap="round"/>
<path d="M512.6,177.2 C513.7,177.07 516.92,177.02 519.2,176.4 C521.48,175.78 523.93,174.68 526.3,173.5 C528.67,172.32 531.03,170.95 533.4,169.3 C535.77,167.65 538.13,165.97 540.5,163.6 C542.87,161.23 545.47,158.18 547.6,155.1 C549.73,152.02 551.63,148.65 553.3,145.1 C554.97,141.55 556.27,138.07 557.6,133.8 C558.93,129.53 560.12,125.18 561.3,119.5 C562.48,113.82 563.8,104.83 564.7,99.7 C565.6,94.57 566.07,91.78 566.7,88.7 C567.33,85.62 567.85,83.75 568.5,81.2 C569.15,78.65 569.88,75.88 570.6,73.4 C571.32,70.92 572.08,68.25 572.8,66.3 C573.52,64.35 574.25,63.05 574.9,61.7 C575.55,60.35 576.13,59.03 576.7,58.2 C577.27,57.37 577.72,56.77 578.3,56.7 C578.88,56.63 579.65,57.27 580.2,57.8 C580.75,58.33 581.18,58.95 581.6,59.9 C582.02,60.85 582.28,61.97 582.7,63.5 C583.12,65.03 583.63,66.98 584.1,69.1 C584.57,71.22 585.08,73.95 585.5,76.2 C585.92,78.45 586.27,80.52 586.6,82.6 C586.93,84.68 587.22,86.13 587.5,88.7 C587.78,91.27 587.85,93.33 588.3,98 C588.75,102.67 589.68,111.75 590.2,116.7 C590.72,121.65 591.02,125.35 591.4,127.7 C591.78,130.05 592.03,131.72 592.5,130.8 C592.97,129.88 593.58,124.78 594.2,122.2 C594.82,119.62 595.4,116.75 596.2,115.3 C597,113.85 598.07,113.5 599,113.5 C599.93,113.5 600.75,114.43 601.8,115.3 C602.85,116.17 604.03,117.43 605.3,118.7 C606.57,119.97 608.02,121.4 609.4,122.9 C610.78,124.4 612.43,126.2 613.6,127.7 C614.77,129.2 615.6,130.05 616.4,131.9 C617.2,133.75 617.6,136.67 618.4,138.8 C619.2,140.93 620.15,143.47 621.2,144.7 C622.25,145.93 623.2,146.02 624.7,146.2 C626.2,146.38 628.58,146.33 630.2,145.8 C631.82,145.27 633.02,144.28 634.4,143 C635.78,141.72 637.12,139.6 638.5,138.1 C639.88,136.6 641.3,135.38 642.7,134 C644.1,132.62 645.28,130.97 646.9,129.8 C648.52,128.63 651.02,127.23 652.4,127 C653.78,126.77 654.27,128 655.2,128.4 C656.13,128.8 657.08,129.52 658,129.4 C658.92,129.28 659.55,128.32 660.7,127.7 C661.85,127.08 663.5,125.97 664.9,125.7 C666.3,125.43 667.72,125.95 669.1,126.1 C670.48,126.25 671.82,126.1 673.2,126.6 C674.58,127.1 675.97,127.78 677.4,129.1 C678.83,130.42 681.07,133.6 681.8,134.5" fill="none" stroke="#ffc49c" stroke-width="2.0" stroke-linejoin="round" stroke-linecap="round" stroke-opacity="0.85"/>
<path d="M416.6,231.8 C416.83,231.45 417.43,230.43 418,229.7 C418.57,228.97 419.28,228.07 420,227.4 C420.72,226.73 421.53,226.13 422.3,225.7 C423.07,225.27 423.82,224.97 424.6,224.8 C425.38,224.63 426.25,224.72 427,224.7 C427.75,224.68 428.47,224.8 429.1,224.7 C429.73,224.6 430.3,224.4 430.8,224.1 C431.3,223.8 431.5,223.73 432.1,222.9 C432.7,222.07 433.7,220.73 434.4,219.1 C435.1,217.47 435.73,215.37 436.3,213.1 C436.87,210.83 437.37,208.52 437.8,205.5 C438.23,202.48 438.58,198.52 438.9,195 C439.22,191.48 439.5,188.18 439.7,184.4 C439.9,180.62 439.93,176.07 440.1,172.3 C440.27,168.53 440.52,165.57 440.7,161.8 C440.88,158.03 441.07,153.45 441.2,149.7 C441.33,145.95 441.37,142.2 441.5,139.3 C441.63,136.4 441.85,134.65 442,132.3 C442.15,129.95 442.25,127.28 442.4,125.2 C442.55,123.12 442.75,121.07 442.9,119.8 C443.05,118.53 443.08,117.45 443.3,117.6 C443.52,117.75 443.83,120.33 444.2,120.7 C444.57,121.07 445.13,120.53 445.5,119.8 C445.87,119.07 446.1,118.07 446.4,116.3 C446.7,114.53 447,111.42 447.3,109.2 C447.6,106.98 447.83,104.77 448.2,103 C448.57,101.23 449.07,99.93 449.5,98.6 C449.93,97.27 450.35,96.48 450.8,95 C451.25,93.52 451.83,92.02 452.2,89.7 C452.57,87.38 452.57,84.6 453,81.1 C453.43,77.6 454.2,72.83 454.8,68.7 C455.4,64.57 456.07,59.85 456.6,56.3 C457.13,52.75 457.42,49.62 458,47.4 C458.58,45.18 459.22,44.12 460.1,43 C460.98,41.88 462.35,40.7 463.3,40.7 C464.25,40.7 465,41.58 465.8,43 C466.6,44.42 467.33,46.98 468.1,49.2 C468.87,51.42 469.67,53.05 470.4,56.3 C471.13,59.55 471.85,64.27 472.5,68.7 C473.15,73.13 473.7,78.17 474.3,82.9 C474.9,87.63 475.52,91.78 476.1,97.1 C476.68,102.42 477.28,109.48 477.8,114.8 C478.32,120.12 478.67,123.8 479.2,129 C479.73,134.2 480.17,139.27 481,146 C481.83,152.73 483.38,164.43 484.2,169.4 C485.02,174.37 485.18,172.62 485.9,175.8 C486.62,178.98 487.53,184.25 488.5,188.5 C489.47,192.75 490.47,197.4 491.7,201.3 C492.93,205.2 494.48,209.13 495.9,211.9 C497.32,214.67 498.95,216.77 500.2,217.9 C501.45,219.03 502.45,218.8 503.4,218.7 C504.35,218.6 505.48,217.53 505.9,217.3" fill="none" stroke="#ff2b2b" stroke-width="1.2" stroke-linejoin="round" stroke-linecap="butt" stroke-dasharray="0.8,4.5" stroke-opacity="0.6"/>
<path d="M512.6,176.9 C513.7,176.77 516.92,176.72 519.2,176.1 C521.48,175.48 523.93,174.38 526.3,173.2 C528.67,172.02 531.03,170.65 533.4,169 C535.77,167.35 538.13,165.67 540.5,163.3 C542.87,160.93 545.47,157.88 547.6,154.8 C549.73,151.72 551.63,148.35 553.3,144.8 C554.97,141.25 556.27,137.77 557.6,133.5 C558.93,129.23 560.12,124.88 561.3,119.2 C562.48,113.51 563.8,104.52 564.7,99.39 C565.6,94.25 566.07,91.47 566.7,88.38 C567.33,85.3 567.85,83.43 568.5,80.88 C569.15,78.33 569.88,75.56 570.6,73.07 C571.32,70.59 572.08,67.92 572.8,65.97 C573.52,64.02 574.25,62.71 574.9,61.36 C575.55,60.01 576.13,58.69 576.7,57.86 C577.27,57.02 577.72,56.42 578.3,56.35 C578.88,56.29 579.65,56.92 580.2,57.45 C580.75,57.98 581.18,58.6 581.6,59.55 C582.02,60.49 582.28,61.61 582.7,63.14 C583.12,64.68 583.63,66.62 584.1,68.74 C584.57,70.86 585.08,73.59 585.5,75.84 C585.92,78.09 586.27,80.15 586.6,82.23 C586.93,84.32 587.22,85.77 587.5,88.33 C587.78,90.9 587.85,92.96 588.3,97.63 C588.75,102.29 589.68,111.38 590.2,116.32 C590.72,121.27 591.02,124.97 591.4,127.32 C591.78,129.67 592.03,131.34 592.5,130.42 C592.97,129.5 593.58,124.4 594.2,121.81 C594.82,119.23 595.4,116.36 596.2,114.91 C597,113.46 598.07,113.11 599,113.1 C599.93,113.1 600.75,114.02 601.8,114.88 C602.85,115.74 604.03,116.99 605.3,118.25 C606.57,119.5 608.02,120.92 609.4,122.41 C610.78,123.89 612.43,125.68 613.6,127.16 C614.77,128.65 615.6,129.49 616.4,131.34 C617.2,133.18 617.6,136.09 618.4,138.22 C619.2,140.34 620.15,142.87 621.2,144.09 C622.25,145.32 623.2,145.4 624.7,145.58 C626.2,145.75 628.58,145.69 630.2,145.15 C631.82,144.61 633.02,143.62 634.4,142.33 C635.78,141.04 637.12,138.91 638.5,137.41 C639.88,135.9 641.3,134.68 642.7,133.29 C644.1,131.9 645.28,130.24 646.9,129.07 C648.52,127.89 651.02,126.48 652.4,126.24 C653.78,126 654.27,127.23 655.2,127.62 C656.13,128.02 657.08,128.73 658,128.61 C658.92,128.49 659.55,127.52 660.7,126.9 C661.85,126.28 663.5,125.17 664.9,124.9 C666.3,124.63 667.72,125.15 669.1,125.3 C670.48,125.45 671.82,125.3 673.2,125.8 C674.58,126.3 675.97,126.98 677.4,128.3 C678.83,129.62 681.07,132.8 681.8,133.7" fill="none" stroke="#ff2b2b" stroke-width="1.2" stroke-linejoin="round" stroke-linecap="butt" stroke-dasharray="0.8,4.5" stroke-opacity="0.6"/>
<line x1="416.5" y1="28.8" x2="416.5" y2="243.95" stroke="#333333" stroke-width="1.1"/>
<line x1="682.3" y1="28.8" x2="682.3" y2="243.95" stroke="#333333" stroke-width="1.1"/>
<line x1="416.5" y1="29.35" x2="507.3" y2="29.35" stroke="#333333" stroke-width="1.1"/>
<line x1="512.1" y1="29.35" x2="682.3" y2="29.35" stroke="#333333" stroke-width="1.1"/>
<line x1="504.9" y1="33.45" x2="509.7" y2="25.25" stroke="#333333" stroke-width="1.2"/>
<line x1="509.7" y1="33.45" x2="514.5" y2="25.25" stroke="#333333" stroke-width="1.2"/>
<line x1="416.5" y1="243.4" x2="507.3" y2="243.4" stroke="#333333" stroke-width="1.1"/>
<line x1="512.1" y1="243.4" x2="682.3" y2="243.4" stroke="#333333" stroke-width="1.1"/>
<line x1="504.9" y1="247.5" x2="509.7" y2="239.3" stroke="#333333" stroke-width="1.2"/>
<line x1="509.7" y1="247.5" x2="514.5" y2="239.3" stroke="#333333" stroke-width="1.2"/>
<line x1="411.9" y1="243.4" x2="416.5" y2="243.4" stroke="#333333" stroke-width="1.1"/>
<text x="409.6" y="246.7" font-size="12.9" text-anchor="end" font-weight="normal" fill="#1e1e1e">0,0</text>
<line x1="411.9" y1="207.75" x2="416.5" y2="207.75" stroke="#333333" stroke-width="1.1"/>
<text x="409.6" y="211.05" font-size="12.9" text-anchor="end" font-weight="normal" fill="#1e1e1e">0,2</text>
<line x1="411.9" y1="172.1" x2="416.5" y2="172.1" stroke="#333333" stroke-width="1.1"/>
<text x="409.6" y="175.4" font-size="12.9" text-anchor="end" font-weight="normal" fill="#1e1e1e">0,4</text>
<line x1="411.9" y1="136.45" x2="416.5" y2="136.45" stroke="#333333" stroke-width="1.1"/>
<text x="409.6" y="139.75" font-size="12.9" text-anchor="end" font-weight="normal" fill="#1e1e1e">0,6</text>
<line x1="411.9" y1="100.8" x2="416.5" y2="100.8" stroke="#333333" stroke-width="1.1"/>
<text x="409.6" y="104.1" font-size="12.9" text-anchor="end" font-weight="normal" fill="#1e1e1e">0,8</text>
<line x1="411.9" y1="65.15" x2="416.5" y2="65.15" stroke="#333333" stroke-width="1.1"/>
<text x="409.6" y="68.45" font-size="12.9" text-anchor="end" font-weight="normal" fill="#1e1e1e">1,0</text>
<line x1="411.9" y1="29.5" x2="416.5" y2="29.5" stroke="#333333" stroke-width="1.1"/>
<text x="409.6" y="32.8" font-size="12.9" text-anchor="end" font-weight="normal" fill="#1e1e1e">1,2</text>
<line x1="413.7" y1="225.58" x2="416.5" y2="225.58" stroke="#333333" stroke-width="1.1"/>
<line x1="413.7" y1="189.93" x2="416.5" y2="189.93" stroke="#333333" stroke-width="1.1"/>
<line x1="413.7" y1="154.28" x2="416.5" y2="154.28" stroke="#333333" stroke-width="1.1"/>
<line x1="413.7" y1="118.63" x2="416.5" y2="118.63" stroke="#333333" stroke-width="1.1"/>
<line x1="413.7" y1="82.97" x2="416.5" y2="82.97" stroke="#333333" stroke-width="1.1"/>
<line x1="413.7" y1="47.32" x2="416.5" y2="47.32" stroke="#333333" stroke-width="1.1"/>
<line x1="423.4" y1="243.4" x2="423.4" y2="247.4" stroke="#333333" stroke-width="1.1"/>
<text x="423.4" y="260.6" font-size="12.9" text-anchor="middle" font-weight="normal" fill="#1e1e1e">4000</text>
<line x1="480.6" y1="243.4" x2="480.6" y2="247.4" stroke="#333333" stroke-width="1.1"/>
<text x="480.6" y="260.6" font-size="12.9" text-anchor="middle" font-weight="normal" fill="#1e1e1e">3000</text>
<line x1="537.5" y1="243.4" x2="537.5" y2="247.4" stroke="#333333" stroke-width="1.1"/>
<text x="537.5" y="260.6" font-size="12.9" text-anchor="middle" font-weight="normal" fill="#1e1e1e">1800</text>
<line x1="588.2" y1="243.4" x2="588.2" y2="247.4" stroke="#333333" stroke-width="1.1"/>
<text x="588.2" y="260.6" font-size="12.9" text-anchor="middle" font-weight="normal" fill="#1e1e1e">1600</text>
<line x1="638.9" y1="243.4" x2="638.9" y2="247.4" stroke="#333333" stroke-width="1.1"/>
<text x="638.9" y="260.6" font-size="12.9" text-anchor="middle" font-weight="normal" fill="#1e1e1e">1400</text>
<line x1="452" y1="243.4" x2="452" y2="246.2" stroke="#333333" stroke-width="1.1"/>
<line x1="562.85" y1="243.4" x2="562.85" y2="246.2" stroke="#333333" stroke-width="1.1"/>
<line x1="613.55" y1="243.4" x2="613.55" y2="246.2" stroke="#333333" stroke-width="1.1"/>
<line x1="664.25" y1="243.4" x2="664.25" y2="246.2" stroke="#333333" stroke-width="1.1"/>
<line x1="491.4" y1="57.5" x2="517" y2="57.5" stroke="#8c8c8c" stroke-width="1.2"/>
<text x="520.6" y="61.1" font-size="11" text-anchor="start" font-weight="normal" fill="#1e1e1e">PBS</text>
<line x1="491.4" y1="71.05" x2="517" y2="71.05" stroke="#ff2b2b" stroke-width="2.0"/>
<text x="520.6" y="74.65" font-size="11" text-anchor="start" font-weight="normal" fill="#1e1e1e">t1</text>
<line x1="491.4" y1="84.6" x2="517" y2="84.6" stroke="#ffc392" stroke-width="2.0"/>
<text x="520.6" y="88.2" font-size="11" text-anchor="start" font-weight="normal" fill="#1e1e1e">t9</text>
<text x="358.1" y="17.4" font-size="21" text-anchor="start" font-weight="normal" fill="#1e1e1e" textLength="27.6" lengthAdjust="spacingAndGlyphs">(b)</text>
<text x="417.7" y="15" font-size="16" text-anchor="start" font-weight="bold" fill="#1e1e1e" textLength="246.8" lengthAdjust="spacingAndGlyphs">Non-Func. Fiber + STV (1 ppm)</text>
<text transform="translate(374.6,261.7) rotate(-90)" x="0" y="0" font-size="17.3" fill="#1e1e1e" textLength="228.8" lengthAdjust="spacingAndGlyphs">Normalized absorbance (a.u.)</text>
<text x="488.4" y="284.6" font-size="14.25" fill="#1e1e1e">Wavenumber (cm<tspan dx="0" dy="-6.6" font-size="8.6">-1</tspan><tspan dx="-0.4" dy="6.6">)</tspan></text>
<path d="M57.7,509 C58.42,509.08 60.3,509.28 62,509.5 C63.7,509.72 66.12,510.53 67.9,510.3 C69.68,510.07 70.87,508.47 72.7,508.1 C74.53,507.73 77.42,508.68 78.9,508.1 C80.38,507.52 80.57,506.22 81.6,504.6 C82.63,502.98 83.77,499.28 85.1,498.4 C86.43,497.52 88.42,499.67 89.6,499.3 C90.78,498.93 91.17,496.58 92.2,496.2 C93.23,495.82 94.77,496.57 95.8,497 C96.83,497.43 97.37,499.17 98.4,498.8 C99.43,498.43 100.82,495.17 102,494.8 C103.18,494.43 104.47,495.57 105.5,496.6 C106.53,497.63 107.38,500.55 108.2,501 C109.02,501.45 109.68,500.92 110.4,499.3 C111.12,497.68 111.48,492.03 112.5,491.3 C113.52,490.57 115.02,494.67 116.5,494.9 C117.98,495.13 119.92,492.12 121.4,492.7 C122.88,493.28 124.15,497.73 125.4,498.4 C126.65,499.07 127.57,495.73 128.9,496.7 C130.23,497.67 131.98,503.98 133.4,504.2 C134.82,504.42 136.08,498.22 137.4,498 C138.72,497.78 139.6,502.83 141.3,502.9 C143,502.97 145.67,498.77 147.6,498.4 C149.53,498.03 151.13,499.67 152.9,500.7 C154.67,501.73 156.87,503.95 158.2,504.6 C159.53,505.25 159.87,505.33 160.9,504.6 C161.93,503.87 163.07,501.82 164.4,500.2 C165.73,498.58 167.42,496.38 168.9,494.9 C170.38,493.42 172.12,492.18 173.3,491.3 C174.48,490.42 175.12,491.22 176,489.6 C176.88,487.98 177.43,483.38 178.6,481.6 C179.77,479.82 181.88,480.67 183,478.9 C184.12,477.13 184.55,473.88 185.3,471 C186.05,468.12 186.7,463.45 187.5,461.6 C188.3,459.75 189.15,459.97 190.1,459.9 C191.05,459.83 192.17,461.75 193.2,461.2 C194.23,460.65 195.33,456.75 196.3,456.6 C197.27,456.45 198.03,458.65 199,460.3 C199.97,461.95 201.07,466.5 202.1,466.5 C203.13,466.5 204.32,460.3 205.2,460.3 C206.08,460.3 206.67,464.13 207.4,466.5 C208.13,468.87 208.63,472.58 209.6,474.5 C210.57,476.42 212.3,476.67 213.2,478 C214.1,479.33 214.25,481.02 215,482.5 C215.75,483.98 216.88,485.8 217.7,486.9 C218.52,488 219.02,489.17 219.9,489.1 C220.78,489.03 221.9,485.98 223,486.5 C224.1,487.02 225.4,492.43 226.5,492.2 C227.6,491.97 228.57,487.47 229.6,485.1 C230.63,482.73 231.58,479.32 232.7,478 C233.82,476.68 234.88,478.08 236.3,477.2 C237.72,476.32 240.02,472.85 241.2,472.7 C242.38,472.55 242.67,474.75 243.4,476.3 C244.13,477.85 244.87,480.82 245.6,482 C246.33,483.18 246.85,483.47 247.8,483.4 C248.75,483.33 249.82,481.08 251.3,481.6 C252.78,482.12 254.92,486.13 256.7,486.5 C258.48,486.87 260.38,483.65 262,483.8 C263.62,483.95 264.82,487.02 266.4,487.4 C267.98,487.78 270.05,485.85 271.5,486.1 C272.95,486.35 273.92,488.2 275.1,488.9 C276.28,489.6 277.42,490.37 278.6,490.3 C279.78,490.23 280.87,487.98 282.2,488.5 C283.53,489.02 285.13,492.58 286.6,493.4 C288.07,494.22 289.08,493.38 291,493.4 C292.92,493.42 296.47,493.07 298.1,493.5 C299.73,493.93 299.9,494.83 300.8,496 C301.7,497.17 302.47,499.9 303.5,500.5 C304.53,501.1 305.82,499.75 307,499.6 C308.18,499.45 309.42,499.53 310.6,499.6 C311.78,499.67 312.93,499.78 314.1,500 C315.27,500.22 316.42,500.9 317.6,500.9 C318.78,500.9 320.27,500.23 321.2,500 C322.13,499.77 322.87,499.58 323.2,499.5" fill="none" stroke="#ff2b2b" stroke-width="1.5" stroke-linejoin="round" stroke-linecap="round"/>
<path d="M57.7,507.2 C58.73,507.43 62.13,508.3 63.9,508.6 C65.67,508.9 67.05,509.15 68.3,509 C69.55,508.85 70.37,507.77 71.4,507.7 C72.43,507.63 73.47,508.65 74.5,508.6 C75.53,508.55 76.63,507.4 77.6,507.4 C78.57,507.4 79.57,508.7 80.3,508.6 C81.03,508.5 81.2,508.35 82,506.8 C82.8,505.25 84.2,500.55 85.1,499.3 C86,498.05 86.58,499.08 87.4,499.3 C88.22,499.52 88.9,500.78 90,500.6 C91.1,500.42 92.82,498.13 94,498.2 C95.18,498.27 96.07,500.02 97.1,501 C98.13,501.98 99.17,504.12 100.2,504.1 C101.23,504.08 102.27,500.97 103.3,500.9 C104.33,500.83 105.52,502.8 106.4,503.7 C107.28,504.6 107.8,506.58 108.6,506.3 C109.4,506.02 110.47,504.12 111.2,502 C111.93,499.88 111.97,494.93 113,493.6 C114.03,492.27 116,494.45 117.4,494 C118.8,493.55 120.15,490.97 121.4,490.9 C122.65,490.83 123.65,493.82 124.9,493.6 C126.15,493.38 127.48,489.08 128.9,489.6 C130.32,490.12 131.98,497.52 133.4,496.7 C134.82,495.88 136.22,486.48 137.4,484.7 C138.58,482.92 138.88,487.62 140.5,486 C142.12,484.38 144.97,475.28 147.1,475 C149.23,474.72 151.45,480.83 153.3,484.3 C155.15,487.77 157.02,493.58 158.2,495.8 C159.38,498.02 159.37,497.45 160.4,497.6 C161.43,497.75 162.98,497.6 164.4,496.7 C165.82,495.8 167.27,493.53 168.9,492.2 C170.53,490.87 172.73,491.07 174.2,488.7 C175.67,486.33 176.37,481.1 177.7,478 C179.03,474.9 181.08,472.45 182.2,470.1 C183.32,467.75 183.67,467.62 184.4,463.9 C185.13,460.18 185.87,451.45 186.6,447.8 C187.33,444.15 188.07,443.1 188.8,442 C189.53,440.9 190.27,441.42 191,441.2 C191.73,440.98 192.45,441.37 193.2,440.7 C193.95,440.03 194.83,438.3 195.5,437.2 C196.17,436.1 196.62,434.18 197.2,434.1 C197.78,434.02 198.25,434.63 199,436.7 C199.75,438.77 200.97,444.8 201.7,446.5 C202.43,448.2 202.82,446.9 203.4,446.9 C203.98,446.9 204.53,445.62 205.2,446.5 C205.87,447.38 206.67,450.22 207.4,452.2 C208.13,454.18 208.78,455.42 209.6,458.4 C210.42,461.38 211.4,466.6 212.3,470.1 C213.2,473.6 213.82,477.03 215,479.4 C216.18,481.77 218.22,483.63 219.4,484.3 C220.58,484.97 220.92,481.93 222.1,483.4 C223.28,484.87 225.17,493.4 226.5,493.1 C227.83,492.8 229.07,484.55 230.1,481.6 C231.13,478.65 231.67,477.17 232.7,475.4 C233.73,473.63 235.18,472.4 236.3,471 C237.42,469.6 238.37,467.15 239.4,467 C240.43,466.85 241.47,468.33 242.5,470.1 C243.53,471.87 244.72,475.9 245.6,477.6 C246.48,479.3 246.85,480 247.8,480.3 C248.75,480.6 249.82,478.73 251.3,479.4 C252.78,480.07 254.92,483.93 256.7,484.3 C258.48,484.67 260.38,481.6 262,481.6 C263.62,481.6 265,484 266.4,484.3 C267.8,484.6 269.25,483.07 270.4,483.4 C271.55,483.73 271.78,485.75 273.3,486.3 C274.82,486.85 277.87,486.18 279.5,486.7 C281.13,487.22 281.92,488.28 283.1,489.4 C284.28,490.52 285.42,492.45 286.6,493.4 C287.78,494.35 288.87,494.67 290.2,495.1 C291.53,495.53 293.05,495.77 294.6,496 C296.15,496.23 298.02,495.68 299.5,496.5 C300.98,497.32 302.25,500.53 303.5,500.9 C304.75,501.27 305.82,498.63 307,498.7 C308.18,498.77 309.42,501.15 310.6,501.3 C311.78,501.45 312.85,499.3 314.1,499.6 C315.35,499.9 316.92,502.95 318.1,503.1 C319.28,503.25 320.35,501.02 321.2,500.5 C322.05,499.98 322.87,500.08 323.2,500" fill="none" stroke="#2a2af0" stroke-width="1.5" stroke-linejoin="round" stroke-linecap="round"/>
<path d="M57.7,508 C58.75,508.08 61.78,508.67 64,508.5 C66.22,508.33 69.17,507.08 71,507 C72.83,506.92 73.5,508 75,508 C76.5,508 78.83,507.67 80,507 C81.17,506.33 81.17,505.67 82,504 C82.83,502.33 84,498.33 85,497 C86,495.67 87,495.92 88,496 C89,496.08 90,497.67 91,497.5 C92,497.33 92.9,494.92 94,495 C95.1,495.08 96.43,497.83 97.6,498 C98.77,498.17 99.83,496.17 101,496 C102.17,495.83 103.4,496.33 104.6,497 C105.8,497.67 107.23,499.83 108.2,500 C109.17,500.17 109.77,499.67 110.4,498 C111.03,496.33 111.35,492.73 112,490 C112.65,487.27 113.25,482.93 114.3,481.6 C115.35,480.27 116.9,482.37 118.3,482 C119.7,481.63 121,480.43 122.7,479.4 C124.4,478.37 127.02,475.73 128.5,475.8 C129.98,475.87 130.72,478.38 131.6,479.8 C132.48,481.22 132.83,485.92 133.8,484.3 C134.77,482.68 136.28,472.32 137.4,470.1 C138.52,467.88 138.8,472.27 140.5,471 C142.2,469.73 145.53,461.92 147.6,462.5 C149.67,463.08 151.13,469.98 152.9,474.5 C154.67,479.02 156.95,486.8 158.2,489.6 C159.45,492.4 159.37,491.23 160.4,491.3 C161.43,491.37 163.28,490.52 164.4,490 C165.52,489.48 165.55,489.45 167.1,488.2 C168.65,486.95 172.15,484.93 173.7,482.5 C175.25,480.07 175.28,477 176.4,473.6 C177.52,470.2 179.3,465.22 180.4,462.1 C181.5,458.98 182.12,457.87 183,454.9 C183.88,451.93 184.8,448.58 185.7,444.3 C186.6,440.02 187.58,432.53 188.4,429.2 C189.22,425.87 189.8,425.03 190.6,424.3 C191.4,423.57 192.38,425.25 193.2,424.8 C194.02,424.35 194.75,422.57 195.5,421.6 C196.25,420.63 197.03,418.77 197.7,419 C198.37,419.23 198.83,421.08 199.5,423 C200.17,424.92 201.05,429.03 201.7,430.5 C202.35,431.97 202.73,431.58 203.4,431.8 C204.07,432.02 204.95,430.62 205.7,431.8 C206.45,432.98 207.17,435.78 207.9,438.9 C208.63,442.02 209.37,446.82 210.1,450.5 C210.83,454.18 211.63,457.75 212.3,461 C212.97,464.25 213.65,468.05 214.1,470 C214.55,471.95 213.97,471.58 215,472.7 C216.03,473.82 218.97,475.82 220.3,476.7 C221.63,477.58 221.88,476.45 223,478 C224.12,479.55 225.82,486.58 227,486 C228.18,485.42 229.15,477.75 230.1,474.5 C231.05,471.25 231.67,468.42 232.7,466.5 C233.73,464.58 235.12,464.33 236.3,463 C237.48,461.67 238.77,458.5 239.8,458.5 C240.83,458.5 241.53,460.78 242.5,463 C243.47,465.22 244.72,469.88 245.6,471.8 C246.48,473.72 246.85,474.35 247.8,474.5 C248.75,474.65 249.97,472.25 251.3,472.7 C252.63,473.15 253.87,476.68 255.8,477.2 C257.73,477.72 261.13,475.67 262.9,475.8 C264.67,475.93 265.07,477.85 266.4,478 C267.73,478.15 269.57,476.7 270.9,476.7 C272.23,476.7 273.4,478.03 274.4,478 C275.4,477.97 275.75,476.15 276.9,476.5 C278.05,476.85 279.83,478.62 281.3,480.1 C282.77,481.58 284.08,484 285.7,485.4 C287.32,486.8 289.22,488.13 291,488.5 C292.78,488.87 294.77,487.23 296.4,487.6 C298.03,487.97 299.62,489.97 300.8,490.7 C301.98,491.43 302.47,492 303.5,492 C304.53,492 305.82,490.32 307,490.7 C308.18,491.08 309.42,493.78 310.6,494.3 C311.78,494.82 312.85,493.15 314.1,493.8 C315.35,494.45 316.77,497.98 318.1,498.2 C319.43,498.42 321.25,495.63 322.1,495.1 C322.95,494.57 323.02,495.02 323.2,495" fill="none" stroke="#e95cf0" stroke-width="1.5" stroke-linejoin="round" stroke-linecap="round"/>
<path d="M57.7,507 C58.75,507 61.78,507.42 64,507 C66.22,506.58 69.33,504.75 71,504.5 C72.67,504.25 72.67,505.58 74,505.5 C75.33,505.42 77.67,504.75 79,504 C80.33,503.25 81,502.5 82,501 C83,499.5 84.1,496.42 85,495 C85.9,493.58 86.4,492.67 87.4,492.5 C88.4,492.33 89.9,494 91,494 C92.1,494 92.9,492.33 94,492.5 C95.1,492.67 96.43,494.83 97.6,495 C98.77,495.17 99.83,493.58 101,493.5 C102.17,493.42 103.4,494 104.6,494.5 C105.8,495 107.23,496.58 108.2,496.5 C109.17,496.42 109.67,496.42 110.4,494 C111.13,491.58 111.87,485.1 112.6,482 C113.33,478.9 113.85,476.65 114.8,475.4 C115.75,474.15 117.1,475.23 118.3,474.5 C119.5,473.77 120.67,472.1 122,471 C123.33,469.9 125,467.98 126.3,467.9 C127.6,467.82 128.55,469.18 129.8,470.5 C131.05,471.82 132.62,476.75 133.8,475.8 C134.98,474.85 135.78,467.38 136.9,464.8 C138.02,462.22 139.47,461.93 140.5,460.3 C141.53,458.67 142.43,456.63 143.1,455 C143.77,453.37 143.75,451.6 144.5,450.5 C145.25,449.4 146.65,448.6 147.6,448.4 C148.55,448.2 149.32,448.27 150.2,449.3 C151.08,450.33 151.87,450.7 152.9,454.6 C153.93,458.5 155.22,468.35 156.4,472.7 C157.58,477.05 158.95,479.15 160,480.7 C161.05,482.25 161.52,482.15 162.7,482 C163.88,481.85 165.48,480.6 167.1,479.8 C168.72,479 171,478.82 172.4,477.2 C173.8,475.58 174.62,472.92 175.5,470.1 C176.38,467.28 177.1,462.82 177.7,460.3 C178.3,457.78 178.55,457.55 179.1,455 C179.65,452.45 180.18,449.17 181,445 C181.82,440.83 183,434.5 184,430 C185,425.5 186.12,420.85 187,418 C187.88,415.15 188.48,414.72 189.3,412.9 C190.12,411.08 191.02,408.43 191.9,407.1 C192.78,405.77 193.72,405.33 194.6,404.9 C195.48,404.47 196.47,404.35 197.2,404.5 C197.93,404.65 198.33,405 199,405.8 C199.67,406.6 200.47,407.83 201.2,409.3 C201.93,410.77 202.6,411.98 203.4,414.6 C204.2,417.22 205.07,420.77 206,425 C206.93,429.23 208,435.5 209,440 C210,444.5 211.15,449.33 212,452 C212.85,454.67 213.6,454.62 214.1,456 C214.6,457.38 213.97,458.62 215,460.3 C216.03,461.98 218.82,464.47 220.3,466.1 C221.78,467.73 222.87,468.03 223.9,470.1 C224.93,472.17 225.62,478.07 226.5,478.5 C227.38,478.93 228.32,475.13 229.2,472.7 C230.08,470.27 230.77,466.85 231.8,463.9 C232.83,460.95 234.37,457.15 235.4,455 C236.43,452.85 237.18,452 238,451 C238.82,450 239.55,448.83 240.3,449 C241.05,449.17 241.83,450.83 242.5,452 C243.17,453.17 243.72,454.02 244.3,456 C244.88,457.98 245.12,462.15 246,463.9 C246.88,465.65 248.42,466.07 249.6,466.5 C250.78,466.93 251.85,466.13 253.1,466.5 C254.35,466.87 255.62,468.77 257.1,468.7 C258.58,468.63 260.3,466.23 262,466.1 C263.7,465.97 265.72,468 267.3,467.9 C268.88,467.8 269.9,465.68 271.5,465.5 C273.1,465.32 275.27,465.7 276.9,466.8 C278.53,467.9 279.83,470.18 281.3,472.1 C282.77,474.02 284.22,476.97 285.7,478.3 C287.18,479.63 288.72,479.65 290.2,480.1 C291.68,480.55 293.28,480.33 294.6,481 C295.92,481.67 296.92,483.82 298.1,484.1 C299.28,484.38 300.52,482.48 301.7,482.7 C302.88,482.92 304.17,485.25 305.2,485.4 C306.23,485.55 306.93,483.38 307.9,483.6 C308.87,483.82 309.82,485.97 311,486.7 C312.18,487.43 313.9,487.03 315,488 C316.1,488.97 316.57,492.5 317.6,492.5 C318.63,492.5 320.27,488.83 321.2,488 C322.13,487.17 322.87,487.58 323.2,487.5" fill="none" stroke="#33a033" stroke-width="1.5" stroke-linejoin="round" stroke-linecap="round"/>
<path d="M57.7,505.47 C58.75,505.43 61.78,505.73 64,505.22 C66.22,504.71 69.33,502.76 71,502.44 C72.67,502.12 72.67,503.46 74,503.32 C75.33,503.18 77.67,502.42 79,501.62 C80.33,500.82 81,500.01 82,498.5 C83,496.99 84.1,493.95 85,492.55 C85.9,491.15 86.4,490.25 87.4,490.1 C88.4,489.95 89.9,491.64 91,491.66 C92.1,491.68 92.9,490.03 94,490.21 C95.1,490.4 96.43,492.59 97.6,492.78 C98.77,492.97 99.83,491.4 101,491.34 C102.17,491.28 103.4,491.88 104.6,492.4 C105.8,492.92 107.23,494.53 108.2,494.47 C109.17,494.4 109.67,494.41 110.4,492.01 C111.13,489.6 111.87,483.13 112.6,480.04 C113.33,476.96 113.85,474.71 114.8,473.48 C115.75,472.25 117.1,473.35 118.3,472.64 C119.5,471.93 120.67,470.28 122,469.2 C123.33,468.12 125,466.23 126.3,466.17 C127.6,466.11 128.55,467.49 129.8,468.83 C131.05,470.17 132.62,475.13 133.8,474.2 C134.98,473.27 135.78,465.82 136.9,463.25 C138.02,460.68 139.47,460.43 140.5,458.78 C141.53,457.12 142.43,455.01 143.1,453.35 C143.77,451.68 143.75,449.91 144.5,448.77 C145.25,447.64 146.65,446.76 147.6,446.52 C148.55,446.27 149.32,446.28 150.2,447.31 C151.08,448.33 151.87,448.75 152.9,452.67 C153.93,456.6 155.22,466.48 156.4,470.86 C157.58,475.24 158.95,477.37 160,478.95 C161.05,480.53 161.52,480.44 162.7,480.32 C163.88,480.2 165.48,479.06 167.1,478.23 C168.72,477.39 171,477.06 172.4,475.3 C173.8,473.54 174.62,470.65 175.5,467.68 C176.38,464.72 177.1,460.13 177.7,457.52 C178.3,454.9 178.55,454.62 179.1,451.98 C179.65,449.34 180.18,445.97 181,441.67 C181.82,437.36 183,430.84 184,426.17 C185,421.49 186.12,416.62 187,413.6 C187.88,410.58 188.48,410.02 189.3,408.04 C190.12,406.06 191.02,403.23 191.9,401.72 C192.78,400.21 193.72,399.48 194.6,398.98 C195.48,398.48 196.47,398.52 197.2,398.72 C197.93,398.92 198.33,399.33 199,400.2 C199.67,401.07 200.47,402.38 201.2,403.92 C201.93,405.46 202.6,406.71 203.4,409.44 C204.2,412.17 205.07,415.84 206,420.3 C206.93,424.76 208,431.4 209,436.2 C210,441 211.15,446.18 212,449.1 C212.85,452.02 213.6,452.2 214.1,453.73 C214.6,455.26 213.97,456.62 215,458.3 C216.03,459.98 218.82,462.28 220.3,463.84 C221.78,465.39 222.87,465.64 223.9,467.66 C224.93,469.67 225.62,475.54 226.5,475.93 C227.38,476.31 228.32,472.47 229.2,469.99 C230.08,467.51 230.77,464.06 231.8,461.06 C232.83,458.06 234.37,454.18 235.4,452 C236.43,449.82 237.18,449 238,448 C238.82,447 239.55,445.83 240.3,446.01 C241.05,446.2 241.83,447.93 242.5,449.12 C243.17,450.32 243.72,451.2 244.3,453.21 C244.88,455.23 245.12,459.41 246,461.2 C246.88,462.99 248.42,463.5 249.6,463.98 C250.78,464.46 251.85,463.68 253.1,464.08 C254.35,464.48 255.62,466.41 257.1,466.38 C258.58,466.35 260.3,463.99 262,463.9 C263.7,463.81 265.72,465.85 267.3,465.83 C268.88,465.82 269.9,463.74 271.5,463.8 C273.1,463.86 275.27,464.75 276.9,466.18 C278.53,467.61 279.83,470.18 281.3,472.36 C282.77,474.54 284.22,477.85 285.7,479.28 C287.18,480.7 288.72,480.53 290.2,480.93 C291.68,481.33 293.28,481.06 294.6,481.68 C295.92,482.3 296.92,484.46 298.1,484.66 C299.28,484.87 300.52,482.85 301.7,482.92 C302.88,482.98 304.17,485.06 305.2,485.03 C306.23,485.01 306.93,482.73 307.9,482.78 C308.87,482.84 309.82,484.96 311,485.37 C312.18,485.78 313.9,484.7 315,485.25 C316.1,485.8 316.57,488.65 317.6,488.67 C318.63,488.68 320.27,485.83 321.2,485.33 C322.13,484.83 322.87,485.61 323.2,485.67" fill="none" stroke="#2fd6d6" stroke-width="1.5" stroke-linejoin="round" stroke-linecap="round"/>
<path d="M57.7,505.99 C58.75,505.96 61.78,506.32 64,505.86 C66.22,505.4 69.33,503.5 71,503.22 C72.67,502.94 72.67,504.27 74,504.16 C75.33,504.05 77.67,503.34 79,502.56 C80.33,501.78 81,501.01 82,499.5 C83,497.99 84.1,494.92 85,493.5 C85.9,492.08 86.4,491.17 87.4,491 C88.4,490.83 89.9,492.5 91,492.5 C92.1,492.5 92.9,490.83 94,491 C95.1,491.17 96.43,493.33 97.6,493.5 C98.77,493.67 99.83,492.08 101,492 C102.17,491.92 103.4,492.5 104.6,493 C105.8,493.5 107.23,495.08 108.2,495 C109.17,494.92 109.67,494.92 110.4,492.5 C111.13,490.08 111.87,483.6 112.6,480.5 C113.33,477.4 113.85,475.15 114.8,473.9 C115.75,472.65 117.1,473.73 118.3,473 C119.5,472.27 120.67,470.6 122,469.5 C123.33,468.4 125,466.48 126.3,466.4 C127.6,466.32 128.55,467.68 129.8,469 C131.05,470.32 132.62,475.25 133.8,474.3 C134.98,473.35 135.78,465.89 136.9,463.3 C138.02,460.71 139.47,460.43 140.5,458.79 C141.53,457.14 142.43,455.07 143.1,453.42 C143.77,451.77 143.75,450.01 144.5,448.89 C145.25,447.77 146.65,446.92 147.6,446.71 C148.55,446.5 149.32,446.58 150.2,447.62 C151.08,448.66 151.87,449.04 152.9,452.94 C153.93,456.85 155.22,466.72 156.4,471.08 C157.58,475.44 158.95,477.55 160,479.11 C161.05,480.67 161.52,480.57 162.7,480.43 C163.88,480.29 165.48,479.18 167.1,478.27 C168.72,477.36 171,476.87 172.4,474.98 C173.8,473.09 174.62,470.03 175.5,466.95 C176.38,463.87 177.1,459.19 177.7,456.49 C178.3,453.79 178.55,453.49 179.1,450.77 C179.65,448.05 180.18,444.61 181,440.2 C181.82,435.79 183,429.17 184,424.3 C185,419.43 186.12,414.26 187,411 C187.88,407.74 188.48,406.98 189.3,404.75 C190.12,402.52 191.02,399.43 191.9,397.65 C192.78,395.88 193.72,394.68 194.6,394.1 C195.48,393.52 196.47,393.84 197.2,394.16 C197.93,394.48 198.33,395 199,396 C199.67,397 200.47,398.47 201.2,400.16 C201.93,401.85 202.6,403.23 203.4,406.12 C204.2,409.01 205.07,412.85 206,417.5 C206.93,422.15 208,429 209,434 C210,439 211.15,444.41 212,447.5 C212.85,450.59 213.6,450.92 214.1,452.55 C214.6,454.18 213.97,455.54 215,457.3 C216.03,459.06 218.82,461.47 220.3,463.1 C221.78,464.73 222.87,465.03 223.9,467.1 C224.93,469.17 225.62,475.07 226.5,475.5 C227.38,475.93 228.32,472.22 229.2,469.7 C230.08,467.18 230.77,463.58 231.8,460.36 C232.83,457.14 234.37,452.84 235.4,450.38 C236.43,447.92 237.18,446.81 238,445.6 C238.82,444.39 239.55,442.9 240.3,443.09 C241.05,443.28 241.83,445.38 242.5,446.75 C243.17,448.12 243.72,449.13 244.3,451.29 C244.88,453.45 245.12,457.69 246,459.7 C246.88,461.71 248.42,462.73 249.6,463.38 C250.78,464.03 251.85,463.16 253.1,463.58 C254.35,463.99 255.62,465.91 257.1,465.88 C258.58,465.85 260.3,463.49 262,463.4 C263.7,463.31 265.72,465.41 267.3,465.33 C268.88,465.26 269.9,463.16 271.5,462.95 C273.1,462.74 275.27,463.02 276.9,464.07 C278.53,465.12 279.83,467.34 281.3,469.22 C282.77,471.1 284.22,473.98 285.7,475.35 C287.18,476.72 288.72,476.9 290.2,477.45 C291.68,478 293.28,477.89 294.6,478.64 C295.92,479.39 296.92,481.64 298.1,481.97 C299.28,482.3 300.52,480.43 301.7,480.63 C302.88,480.83 304.17,483.08 305.2,483.18 C306.23,483.29 306.93,481.09 307.9,481.27 C308.87,481.45 309.82,483.5 311,484.24 C312.18,484.99 313.9,484.71 315,485.75 C316.1,486.79 316.57,490.38 317.6,490.47 C318.63,490.55 320.27,487.02 321.2,486.27 C322.13,485.51 322.87,485.99 323.2,485.93" fill="none" stroke="#c8f09a" stroke-width="1.5" stroke-linejoin="round" stroke-linecap="round"/>
<path d="M57.7,508 C58.58,507.93 61.28,507.77 63,507.6 C64.72,507.43 66.5,507.3 68,507 C69.5,506.7 70.67,505.9 72,505.8 C73.33,505.7 74.67,506.57 76,506.4 C77.33,506.23 79,505.62 80,504.8 C81,503.98 81.17,503.3 82,501.5 C82.83,499.7 84.1,495.58 85,494 C85.9,492.42 86.35,491.92 87.4,492 C88.45,492.08 90.05,494.58 91.3,494.5 C92.55,494.42 93.48,491.42 94.9,491.5 C96.32,491.58 98.4,495 99.8,495 C101.2,495 101.75,491.5 103.3,491.5 C104.85,491.5 107.83,495.92 109.1,495 C110.37,494.08 110.32,489.5 110.9,486 C111.48,482.5 112.1,476.95 112.6,474 C113.1,471.05 112.95,469.72 113.9,468.3 C114.85,466.88 117.12,466.55 118.3,465.5 C119.48,464.45 120.12,463 121,462 C121.88,461 122.68,461.08 123.6,459.5 C124.52,457.92 125.6,454.25 126.5,452.5 C127.4,450.75 128.15,449.5 129,449 C129.85,448.5 130.87,449.6 131.6,449.5 C132.33,449.4 132.58,449.73 133.4,448.4 C134.22,447.07 135.65,443.65 136.5,441.5 C137.35,439.35 137.83,436.67 138.5,435.5 C139.17,434.33 139.88,435.58 140.5,434.5 C141.12,433.42 141.62,430.75 142.2,429 C142.78,427.25 143.4,425 144,424 C144.6,423 145.2,423.43 145.8,423 C146.4,422.57 147.02,421.4 147.6,421.4 C148.18,421.4 148.72,421.9 149.3,423 C149.88,424.1 150.43,426.33 151.1,428 C151.77,429.67 152.63,430.83 153.3,433 C153.97,435.17 154.43,437.83 155.1,441 C155.77,444.17 156.65,448.5 157.3,452 C157.95,455.5 158.55,458.98 159,462 C159.45,465.02 158.95,468.53 160,470.1 C161.05,471.67 163.38,471.55 165.3,471.4 C167.22,471.25 169.8,470.75 171.5,469.2 C173.2,467.65 174.53,464.47 175.5,462.1 C176.47,459.73 176.55,458.18 177.3,455 C178.05,451.82 179.05,447.17 180,443 C180.95,438.83 182,434.17 183,430 C184,425.83 185.1,421.73 186,418 C186.9,414.27 187.63,411.27 188.4,407.6 C189.17,403.93 189.93,398.45 190.6,396 C191.27,393.55 191.88,393.57 192.4,392.9 C192.92,392.23 193.18,391.77 193.7,392 C194.22,392.23 194.98,393.7 195.5,394.3 C196.02,394.9 196.28,395.38 196.8,395.6 C197.32,395.82 198.02,395.3 198.6,395.6 C199.18,395.9 199.63,396.3 200.3,397.4 C200.97,398.5 201.78,400.5 202.6,402.2 C203.42,403.9 204.32,405.53 205.2,407.6 C206.08,409.67 207.1,411.7 207.9,414.6 C208.7,417.5 209.32,420.77 210,425 C210.68,429.23 211.42,435.5 212,440 C212.58,444.5 213,448.47 213.5,452 C214,455.53 213.87,459.22 215,461.2 C216.13,463.18 218.97,462.77 220.3,463.9 C221.63,465.03 222.03,465.93 223,468 C223.97,470.07 225.07,476.1 226.1,476.3 C227.13,476.5 228.1,472.75 229.2,469.2 C230.3,465.65 231.73,458.2 232.7,455 C233.67,451.8 233.97,451.67 235,450 C236.03,448.33 237.82,445.33 238.9,445 C239.98,444.67 240.65,446.67 241.5,448 C242.35,449.33 243.25,451.53 244,453 C244.75,454.47 244.92,455.58 246,456.8 C247.08,458.02 249.17,459.57 250.5,460.3 C251.83,461.03 252.82,460.6 254,461.2 C255.18,461.8 256.12,464.12 257.6,463.9 C259.08,463.68 261.13,460.42 262.9,459.9 C264.67,459.38 266.83,460.83 268.2,460.8 C269.57,460.77 270.03,459.43 271.1,459.7 C272.17,459.97 273.35,461.95 274.6,462.4 C275.85,462.85 277.33,461.88 278.6,462.4 C279.87,462.92 281.02,464.1 282.2,465.5 C283.38,466.9 284.52,469.18 285.7,470.8 C286.88,472.42 287.97,473.87 289.3,475.2 C290.63,476.53 292.23,478.58 293.7,478.8 C295.17,479.02 296.77,476.58 298.1,476.5 C299.43,476.42 300.67,477.27 301.7,478.3 C302.73,479.33 303.42,482.4 304.3,482.7 C305.18,483 305.95,480.25 307,480.1 C308.05,479.95 309.42,481.95 310.6,481.8 C311.78,481.65 312.78,479.05 314.1,479.2 C315.42,479.35 317.17,482.55 318.5,482.7 C319.83,482.85 321.32,480.47 322.1,480.1 C322.88,479.73 323.02,480.43 323.2,480.5" fill="none" stroke="#ffb987" stroke-width="1.5" stroke-linejoin="round" stroke-linecap="round"/>
<path d="M57.7,505.5 C58.73,505.57 61.68,506.35 63.9,505.9 C66.12,505.45 69.3,503.02 71,502.8 C72.7,502.58 72.78,504.6 74.1,504.6 C75.42,504.6 77.65,503.55 78.9,502.8 C80.15,502.05 80.63,501.73 81.6,500.1 C82.57,498.47 83.73,494.62 84.7,493 C85.67,491.38 86.43,490.62 87.4,490.4 C88.37,490.18 89.4,491.63 90.5,491.7 C91.6,491.77 92.82,490.58 94,490.8 C95.18,491.02 96.42,492.92 97.6,493 C98.78,493.08 99.93,491.43 101.1,491.3 C102.27,491.17 103.42,491.77 104.6,492.2 C105.78,492.63 107.23,494.05 108.2,493.9 C109.17,493.75 109.67,494.28 110.4,491.3 C111.13,488.32 111.93,479.22 112.6,476 C113.27,472.78 113.9,472.92 114.4,472 C114.9,471.08 114.37,471.42 115.6,470.5 C116.83,469.58 120.17,467.32 121.8,466.5 C123.43,465.68 124.22,466.78 125.4,465.6 C126.58,464.42 127.72,460.13 128.9,459.4 C130.08,458.67 131.32,461.48 132.5,461.2 C133.68,460.92 135.27,459.08 136,457.7 C136.73,456.32 136.3,454.45 136.9,452.9 C137.5,451.35 138.57,450.47 139.6,448.4 C140.63,446.33 142.07,442.57 143.1,440.5 C144.13,438.43 144.98,437.55 145.8,436 C146.62,434.45 147.27,431.48 148,431.2 C148.73,430.92 149.38,432.17 150.2,434.3 C151.02,436.43 152.08,440.62 152.9,444 C153.72,447.38 154.22,450.55 155.1,454.6 C155.98,458.65 157.38,465.28 158.2,468.3 C159.02,471.32 158.82,471.82 160,472.7 C161.18,473.58 163.38,473.9 165.3,473.6 C167.22,473.3 169.87,472.52 171.5,470.9 C173.13,469.28 174.22,466.55 175.1,463.9 C175.98,461.25 176.32,457.65 176.8,455 C177.28,452.35 177.55,450.5 178,448 C178.45,445.5 178.97,443 179.5,440 C180.03,437 180.53,433 181.2,430 C181.87,427 182.78,424.67 183.5,422 C184.22,419.33 184.98,416.85 185.5,414 C186.02,411.15 186.12,408.18 186.6,404.9 C187.08,401.62 187.73,397.33 188.4,394.3 C189.07,391.27 189.87,388.7 190.6,386.7 C191.33,384.7 192.13,383.33 192.8,382.3 C193.47,381.27 193.72,380.5 194.6,380.5 C195.48,380.5 197.15,381.33 198.1,382.3 C199.05,383.27 199.7,384.9 200.3,386.3 C200.9,387.7 201.03,389.23 201.7,390.7 C202.37,392.17 203.5,393.77 204.3,395.1 C205.1,396.43 205.83,396.62 206.5,398.7 C207.17,400.78 207.85,404.95 208.3,407.6 C208.75,410.25 208.75,411.2 209.2,414.6 C209.65,418 210.37,423.43 211,428 C211.63,432.57 212.33,438.75 213,442 C213.67,445.25 214.22,446.08 215,447.5 C215.78,448.92 216.88,449.25 217.7,450.5 C218.52,451.75 219.25,454.58 219.9,455 C220.55,455.42 221.02,452.83 221.6,453 C222.18,453.17 222.58,453.75 223.4,456 C224.22,458.25 225.65,465.67 226.5,466.5 C227.35,467.33 227.9,463.58 228.5,461 C229.1,458.42 229.52,454 230.1,451 C230.68,448 231.33,445.08 232,443 C232.67,440.92 233.38,439.67 234.1,438.5 C234.82,437.33 235.65,437.08 236.3,436 C236.95,434.92 237.45,432.93 238,432 C238.55,431.07 239,430.15 239.6,430.4 C240.2,430.65 240.97,432.23 241.6,433.5 C242.23,434.77 242.88,436.42 243.4,438 C243.92,439.58 244.27,441.17 244.7,443 C245.13,444.83 244.9,447.83 246,449 C247.1,450.17 249.97,449.5 251.3,450 C252.63,450.5 252.95,451.13 254,452 C255.05,452.87 256.48,455.2 257.6,455.2 C258.72,455.2 259.75,452.78 260.7,452 C261.65,451.22 262.05,450.55 263.3,450.5 C264.55,450.45 266.97,451.75 268.2,451.7 C269.43,451.65 269.77,449.9 270.7,450.2 C271.63,450.5 272.62,453.1 273.8,453.5 C274.98,453.9 276.4,451.93 277.8,452.6 C279.2,453.27 280.88,455.5 282.2,457.5 C283.52,459.5 284.52,462.68 285.7,464.6 C286.88,466.52 287.97,467.9 289.3,469 C290.63,470.1 292.37,471.05 293.7,471.2 C295.03,471.35 296.12,469.82 297.3,469.9 C298.48,469.98 299.7,470.97 300.8,471.7 C301.9,472.43 302.65,474.45 303.9,474.3 C305.15,474.15 306.9,470.57 308.3,470.8 C309.7,471.03 310.67,474.52 312.3,475.7 C313.93,476.88 316.47,478.05 318.1,477.9 C319.73,477.75 321.25,475.45 322.1,474.8 C322.95,474.15 323.02,474.13 323.2,474" fill="none" stroke="#70c8ff" stroke-width="1.5" stroke-linejoin="round" stroke-linecap="round"/>
<path d="M57.7,508.6 C58.58,508.55 61.28,508.48 63,508.3 C64.72,508.12 66.5,507.8 68,507.5 C69.5,507.2 70.67,506.58 72,506.5 C73.33,506.42 74.67,507.17 76,507 C77.33,506.83 79,506.33 80,505.5 C81,504.67 81.15,504.08 82,502 C82.85,499.92 84.2,494.72 85.1,493 C86,491.28 86.37,491.47 87.4,491.7 C88.43,491.93 90.05,494.47 91.3,494.4 C92.55,494.33 93.48,491.08 94.9,491.3 C96.32,491.52 98.4,495.7 99.8,495.7 C101.2,495.7 101.75,491.3 103.3,491.3 C104.85,491.3 107.83,496.58 109.1,495.7 C110.37,494.82 110.32,489.7 110.9,486 C111.48,482.3 112.1,476 112.6,473.5 C113.1,471 113.4,471.87 113.9,471 C114.4,470.13 114.87,469.05 115.6,468.3 C116.33,467.55 117.4,467.38 118.3,466.5 C119.2,465.62 120.12,464.03 121,463 C121.88,461.97 123.02,461.7 123.6,460.3 C124.18,458.9 123.62,456.6 124.5,454.6 C125.38,452.6 127.72,449.03 128.9,448.3 C130.08,447.57 130.7,449.37 131.6,450.2 C132.5,451.03 133.48,454.92 134.3,453.3 C135.12,451.68 135.85,443.67 136.5,440.5 C137.15,437.33 137.53,435.57 138.2,434.3 C138.87,433.03 139.83,434.08 140.5,432.9 C141.17,431.72 141.62,429.05 142.2,427.2 C142.78,425.35 143.4,422.83 144,421.8 C144.6,420.77 145.2,421.92 145.8,421 C146.4,420.08 147.02,416.6 147.6,416.3 C148.18,416 148.72,417.68 149.3,419.2 C149.88,420.72 150.43,423.63 151.1,425.4 C151.77,427.17 152.63,427.73 153.3,429.8 C153.97,431.87 154.43,434.98 155.1,437.8 C155.77,440.62 156.63,443.9 157.3,446.7 C157.97,449.5 158.65,452.65 159.1,454.6 C159.55,456.55 159.4,457.17 160,458.4 C160.6,459.63 161.67,461.03 162.7,462 C163.73,462.97 165.17,464.05 166.2,464.2 C167.23,464.35 168.02,463.57 168.9,462.9 C169.78,462.23 170.55,461.23 171.5,460.2 C172.45,459.17 173.78,458.62 174.6,456.7 C175.42,454.78 175.88,451.52 176.4,448.7 C176.92,445.88 177.18,442.9 177.7,439.8 C178.22,436.7 178.83,432.9 179.5,430.1 C180.17,427.3 180.97,425.52 181.7,423 C182.43,420.48 183.23,417.87 183.9,415 C184.57,412.13 185.18,409.25 185.7,405.8 C186.22,402.35 186.55,397.7 187,394.3 C187.45,390.9 187.95,387.55 188.4,385.4 C188.85,383.25 189.12,382.43 189.7,381.4 C190.28,380.37 191.17,379.72 191.9,379.2 C192.63,378.68 193.5,378.45 194.1,378.3 C194.7,378.15 194.87,378.75 195.5,378.3 C196.13,377.85 197.23,375.6 197.9,375.6 C198.57,375.6 198.95,376.97 199.5,378.3 C200.05,379.63 200.62,381.9 201.2,383.6 C201.78,385.3 202.33,387.47 203,388.5 C203.67,389.53 204.53,388.83 205.2,389.8 C205.87,390.77 206.48,392.52 207,394.3 C207.52,396.08 207.87,398.28 208.3,400.5 C208.73,402.72 209.23,405.25 209.6,407.6 C209.97,409.95 210.12,411.3 210.5,414.6 C210.88,417.9 211.38,422.9 211.9,427.4 C212.42,431.9 213.08,438.52 213.6,441.6 C214.12,444.68 214.32,444.67 215,445.9 C215.68,447.13 216.88,447.75 217.7,449 C218.52,450.25 219.25,453.03 219.9,453.4 C220.55,453.77 221.02,451.05 221.6,451.2 C222.18,451.35 222.87,452.9 223.4,454.3 C223.93,455.7 224.28,458 224.8,459.6 C225.32,461.2 225.92,463.9 226.5,463.9 C227.08,463.9 227.7,462.08 228.3,459.6 C228.9,457.12 229.52,452.25 230.1,449 C230.68,445.75 231.13,442.23 231.8,440.1 C232.47,437.97 233.35,437.23 234.1,436.2 C234.85,435.17 235.65,435.02 236.3,433.9 C236.95,432.78 237.45,430.45 238,429.5 C238.55,428.55 239,427.9 239.6,428.2 C240.2,428.5 240.97,430.05 241.6,431.3 C242.23,432.55 242.88,434.08 243.4,435.7 C243.92,437.32 244.27,439.37 244.7,441 C245.13,442.63 245.33,444.62 246,445.5 C246.67,446.38 247.82,446.02 248.7,446.3 C249.58,446.58 250.42,446.75 251.3,447.2 C252.18,447.65 252.95,447.97 254,449 C255.05,450.03 256.48,453.25 257.6,453.4 C258.72,453.55 259.75,450.78 260.7,449.9 C261.65,449.02 262.35,448.1 263.3,448.1 C264.25,448.1 265.62,449.6 266.4,449.9 C267.18,450.2 267.28,450.12 268,449.9 C268.72,449.68 269.73,448.22 270.7,448.6 C271.67,448.98 272.7,451.87 273.8,452.2 C274.9,452.53 276.12,450.6 277.3,450.6 C278.48,450.6 279.87,451.2 280.9,452.2 C281.93,453.2 282.7,455.13 283.5,456.6 C284.3,458.07 284.88,459.82 285.7,461 C286.52,462.18 287.43,462.52 288.4,463.7 C289.37,464.88 290.47,467.28 291.5,468.1 C292.53,468.92 293.5,468.45 294.6,468.6 C295.7,468.75 296.92,468.63 298.1,469 C299.28,469.37 300.37,470.43 301.7,470.8 C303.03,471.17 304.62,470.62 306.1,471.2 C307.58,471.78 309.27,474.07 310.6,474.3 C311.93,474.53 313.07,472.75 314.1,472.6 C315.13,472.45 315.77,473.63 316.8,473.4 C317.83,473.17 319.27,471.33 320.3,471.2 C321.33,471.07 322.55,472.37 323,472.6" fill="none" stroke="#c8692c" stroke-width="1.5" stroke-linejoin="round" stroke-linecap="round"/>
<rect x="57.4" y="304.1" width="266" height="213.5" fill="none" stroke="#333333" stroke-width="1.1"/>
<line x1="52.8" y1="508.3" x2="57.4" y2="508.3" stroke="#333333" stroke-width="1.1"/>
<text x="49.6" y="511.5" font-size="12.9" text-anchor="end" font-weight="normal" fill="#1e1e1e">0,00</text>
<line x1="52.8" y1="462.9" x2="57.4" y2="462.9" stroke="#333333" stroke-width="1.1"/>
<text x="49.6" y="466.1" font-size="12.9" text-anchor="end" font-weight="normal" fill="#1e1e1e">0,01</text>
<line x1="52.8" y1="417.5" x2="57.4" y2="417.5" stroke="#333333" stroke-width="1.1"/>
<text x="49.6" y="420.7" font-size="12.9" text-anchor="end" font-weight="normal" fill="#1e1e1e">0,02</text>
<line x1="52.8" y1="372.1" x2="57.4" y2="372.1" stroke="#333333" stroke-width="1.1"/>
<text x="49.6" y="375.3" font-size="12.9" text-anchor="end" font-weight="normal" fill="#1e1e1e">0,03</text>
<line x1="52.8" y1="326.7" x2="57.4" y2="326.7" stroke="#333333" stroke-width="1.1"/>
<text x="49.6" y="329.9" font-size="12.9" text-anchor="end" font-weight="normal" fill="#1e1e1e">0,04</text>
<line x1="54.6" y1="485.6" x2="57.4" y2="485.6" stroke="#333333" stroke-width="1.1"/>
<line x1="54.6" y1="440.2" x2="57.4" y2="440.2" stroke="#333333" stroke-width="1.1"/>
<line x1="54.6" y1="394.8" x2="57.4" y2="394.8" stroke="#333333" stroke-width="1.1"/>
<line x1="54.6" y1="349.4" x2="57.4" y2="349.4" stroke="#333333" stroke-width="1.1"/>
<line x1="54.6" y1="304" x2="57.4" y2="304" stroke="#333333" stroke-width="1.1"/>
<line x1="57.4" y1="517.6" x2="57.4" y2="521.6" stroke="#333333" stroke-width="1.1"/>
<text x="57.4" y="534.6" font-size="12.9" text-anchor="middle" font-weight="normal" fill="#1e1e1e">1800</text>
<line x1="163.94" y1="517.6" x2="163.94" y2="521.6" stroke="#333333" stroke-width="1.1"/>
<text x="163.94" y="534.6" font-size="12.9" text-anchor="middle" font-weight="normal" fill="#1e1e1e">1600</text>
<line x1="270.48" y1="517.6" x2="270.48" y2="521.6" stroke="#333333" stroke-width="1.1"/>
<text x="270.48" y="534.6" font-size="12.9" text-anchor="middle" font-weight="normal" fill="#1e1e1e">1400</text>
<line x1="110.67" y1="517.6" x2="110.67" y2="520.4" stroke="#333333" stroke-width="1.1"/>
<line x1="217.21" y1="517.6" x2="217.21" y2="520.4" stroke="#333333" stroke-width="1.1"/>
<line x1="323.75" y1="517.6" x2="323.75" y2="520.4" stroke="#333333" stroke-width="1.1"/>
<line x1="59.2" y1="311.6" x2="85.2" y2="311.6" stroke="#ff2b2b" stroke-width="1.3"/>
<text x="88" y="315.2" font-size="11" text-anchor="start" font-weight="normal" fill="#1e1e1e">t1</text>
<line x1="59.2" y1="325.33" x2="85.2" y2="325.33" stroke="#2a2af0" stroke-width="1.3"/>
<text x="88" y="328.93" font-size="11" text-anchor="start" font-weight="normal" fill="#1e1e1e">t2</text>
<line x1="59.2" y1="339.06" x2="85.2" y2="339.06" stroke="#e95cf0" stroke-width="1.3"/>
<text x="88" y="342.66" font-size="11" text-anchor="start" font-weight="normal" fill="#1e1e1e">t3</text>
<line x1="59.2" y1="352.79" x2="85.2" y2="352.79" stroke="#33a033" stroke-width="1.3"/>
<text x="88" y="356.39" font-size="11" text-anchor="start" font-weight="normal" fill="#1e1e1e">t4</text>
<line x1="59.2" y1="366.52" x2="85.2" y2="366.52" stroke="#2fd6d6" stroke-width="1.3"/>
<text x="88" y="370.12" font-size="11" text-anchor="start" font-weight="normal" fill="#1e1e1e">t5</text>
<line x1="59.2" y1="380.25" x2="85.2" y2="380.25" stroke="#c8f09a" stroke-width="1.3"/>
<text x="88" y="383.85" font-size="11" text-anchor="start" font-weight="normal" fill="#1e1e1e">t6</text>
<line x1="59.2" y1="393.98" x2="85.2" y2="393.98" stroke="#ffb987" stroke-width="1.3"/>
<text x="88" y="397.58" font-size="11" text-anchor="start" font-weight="normal" fill="#1e1e1e">t7</text>
<line x1="59.2" y1="407.71" x2="85.2" y2="407.71" stroke="#70c8ff" stroke-width="1.3"/>
<text x="88" y="411.31" font-size="11" text-anchor="start" font-weight="normal" fill="#1e1e1e">t8</text>
<line x1="59.2" y1="421.44" x2="85.2" y2="421.44" stroke="#c8692c" stroke-width="1.3"/>
<text x="88" y="425.04" font-size="11" text-anchor="start" font-weight="normal" fill="#1e1e1e">t9</text>
<text x="13.1" y="287.7" font-size="21.6" text-anchor="start" font-weight="normal" fill="#1e1e1e" textLength="27.4" lengthAdjust="spacingAndGlyphs">(c)</text>
<text transform="translate(16.4,461.5) rotate(-90)" x="0" y="0" font-size="17.8" fill="#1e1e1e" textLength="109.5" lengthAdjust="spacingAndGlyphs">Δ absorbance</text>
<text x="128.4" y="558.8" font-size="14.25" fill="#1e1e1e">Wavenumber (cm<tspan dx="0" dy="-6.6" font-size="8.6">-1</tspan><tspan dx="-0.4" dy="6.6">)</tspan></text>
<path d="M416.6,510.9 C417.13,510.32 418.58,508.47 419.8,507.4 C421.02,506.33 422.63,504.5 423.9,504.5 C425.17,504.5 426.13,507.12 427.4,507.4 C428.67,507.68 430.13,507.18 431.5,506.2 C432.87,505.22 434.43,502.08 435.6,501.5 C436.77,500.92 437.43,503.28 438.5,502.7 C439.57,502.12 440.83,499.85 442,498 C443.17,496.15 444.42,493.73 445.5,491.6 C446.58,489.47 447.62,486.95 448.5,485.2 C449.38,483.45 449.93,481 450.8,481.1 C451.67,481.2 452.63,484.53 453.7,485.8 C454.77,487.07 456.23,487.83 457.2,488.7 C458.17,489.57 458.72,489.63 459.5,491 C460.28,492.37 461.12,495.73 461.9,496.9 C462.68,498.07 463.42,496.73 464.2,498 C464.98,499.27 465.72,504 466.6,504.5 C467.48,505 468.53,501.2 469.5,501 C470.47,500.8 471.33,502.05 472.4,503.3 C473.47,504.55 474.83,507.13 475.9,508.5 C476.97,509.87 477.83,511.88 478.8,511.5 C479.77,511.12 480.63,506.02 481.7,506.2 C482.77,506.38 484.03,512.22 485.2,512.6 C486.37,512.98 487.62,509.95 488.7,508.5 C489.78,507.05 490.9,505.15 491.7,503.9 C492.5,502.65 492.82,500.23 493.5,501 C494.18,501.77 494.83,507.53 495.8,508.5 C496.77,509.47 498.13,506.22 499.3,506.8 C500.47,507.38 501.43,511.8 502.8,512 C504.17,512.2 506.03,507.7 507.5,508 C508.97,508.3 510.03,513.52 511.6,513.8 C513.17,514.08 515.05,510.58 516.9,509.7 C518.75,508.82 520.57,509.47 522.7,508.5 C524.83,507.53 527.75,504.08 529.7,503.9 C531.65,503.72 533.13,507.12 534.4,507.4 C535.67,507.68 536.13,505.02 537.3,505.6 C538.47,506.18 540.13,511.38 541.4,510.9 C542.67,510.42 543.73,503.68 544.9,502.7 C546.07,501.72 547.33,503.53 548.4,505 C549.47,506.47 550.33,509.55 551.3,511.5 C552.27,513.45 553.32,517.2 554.2,516.7 C555.08,516.2 555.43,509.08 556.6,508.5 C557.77,507.92 559.65,512.62 561.2,513.2 C562.75,513.78 564.52,512.5 565.9,512 C567.28,511.5 568.42,509.92 569.5,510.2 C570.58,510.48 571.52,514.18 572.4,513.7 C573.28,513.22 573.92,507.88 574.8,507.3 C575.68,506.72 576.63,509.13 577.7,510.2 C578.77,511.27 580.03,513.98 581.2,513.7 C582.37,513.42 583.33,509.27 584.7,508.5 C586.07,507.73 587.88,510.27 589.4,509.1 C590.92,507.93 592.63,502.1 593.8,501.5 C594.97,500.9 595.58,504.05 596.4,505.5 C597.22,506.95 597.83,510.2 598.7,510.2 C599.57,510.2 600.23,506.18 601.6,505.5 C602.97,504.82 605.43,505.8 606.9,506.1 C608.37,506.4 609.43,506.62 610.4,507.3 C611.37,507.98 611.53,509.9 612.7,510.2 C613.87,510.5 616.18,509.05 617.4,509.1 C618.62,509.15 619.03,510.12 620,510.5 C620.97,510.88 622.13,510.77 623.2,511.4 C624.27,512.03 624.8,514.08 626.4,514.3 C628,514.52 631.2,512.88 632.8,512.7 C634.4,512.52 634.85,513.65 636,513.2 C637.15,512.75 638.38,510 639.7,510 C641.02,510 642.57,512.93 643.9,513.2 C645.23,513.47 646.72,511.68 647.7,511.6 C648.68,511.52 649.1,513.85 649.8,512.7 C650.5,511.55 651.02,506.75 651.9,504.7 C652.78,502.65 654.12,500.75 655.1,500.4 C656.08,500.05 657.08,501.18 657.8,502.6 C658.52,504.02 658.78,506.43 659.4,508.9 C660.02,511.37 660.8,515.98 661.5,517.4 C662.2,518.82 662.72,518.28 663.6,517.4 C664.48,516.52 665.65,513.87 666.8,512.1 C667.95,510.33 669.52,507.33 670.5,506.8 C671.48,506.27 672.17,507.13 672.7,508.9 C673.23,510.67 673.08,515.98 673.7,517.4 C674.32,518.82 675.52,519.87 676.4,517.4 C677.28,514.93 678.3,505.33 679,502.6 C679.7,499.87 680.12,500.83 680.6,501 C681.08,501.17 681.68,503.17 681.9,503.6" fill="none" stroke="#ffb987" stroke-width="1.4" stroke-linejoin="round" stroke-linecap="round"/>
<path d="M416.6,510.3 C417.13,510 418.68,509.28 419.8,508.5 C420.92,507.72 422.03,505.6 423.3,505.6 C424.57,505.6 426.03,508.3 427.4,508.5 C428.77,508.7 430.23,507.57 431.5,506.8 C432.77,506.03 433.83,504.1 435,503.9 C436.17,503.7 437.33,506.08 438.5,505.6 C439.67,505.12 440.83,503.13 442,501 C443.17,498.87 444.52,494.47 445.5,492.8 C446.48,491.13 447.22,491.2 447.9,491 C448.58,490.8 448.63,492.18 449.6,491.6 C450.57,491.02 452.53,487.2 453.7,487.5 C454.87,487.8 455.72,491.65 456.6,493.4 C457.48,495.15 458.12,497.42 459,498 C459.88,498.58 460.93,496.32 461.9,496.9 C462.87,497.48 463.83,499.07 464.8,501.5 C465.77,503.93 466.63,511.3 467.7,511.5 C468.77,511.7 470.03,503.38 471.2,502.7 C472.37,502.02 473.63,506.23 474.7,507.4 C475.77,508.57 476.62,510.28 477.6,509.7 C478.58,509.12 479.52,503.7 480.6,503.9 C481.68,504.1 482.83,510.8 484.1,510.9 C485.37,511 486.93,504.6 488.2,504.5 C489.47,504.4 490.62,510.02 491.7,510.3 C492.78,510.58 493.82,507.57 494.7,506.2 C495.58,504.83 496.23,501.72 497,502.1 C497.77,502.48 498.52,507.03 499.3,508.5 C500.08,509.97 500.52,511.38 501.7,510.9 C502.88,510.42 504.85,505.5 506.4,505.6 C507.95,505.7 509.65,510.82 511,511.5 C512.35,512.18 513.13,510.1 514.5,509.7 C515.87,509.3 517.63,509.3 519.2,509.1 C520.77,508.9 522.35,508.88 523.9,508.5 C525.45,508.12 526.95,506.5 528.5,506.8 C530.05,507.1 531.63,510.4 533.2,510.3 C534.77,510.2 536.33,505.72 537.9,506.2 C539.47,506.68 541.05,513.58 542.6,513.2 C544.15,512.82 545.85,504.38 547.2,503.9 C548.55,503.42 549.63,508.75 550.7,510.3 C551.77,511.85 552.52,513.98 553.6,513.2 C554.68,512.42 555.93,505.88 557.2,505.6 C558.47,505.32 559.85,511.6 561.2,511.5 C562.55,511.4 564.2,505.4 565.3,505 C566.4,504.6 566.72,507.75 567.8,509.1 C568.88,510.45 570.63,513.3 571.8,513.1 C572.97,512.9 573.63,507.8 574.8,507.9 C575.97,508 577.73,513.12 578.8,513.7 C579.87,514.28 580.32,512.95 581.2,511.4 C582.08,509.85 582.93,505.47 584.1,504.4 C585.27,503.33 587.13,505.98 588.2,505 C589.27,504.02 589.63,500.55 590.5,498.5 C591.37,496.45 592.42,493.08 593.4,492.7 C594.38,492.32 595.52,495.42 596.4,496.2 C597.28,496.98 597.83,497.37 598.7,497.4 C599.57,497.43 600.33,495.63 601.6,496.4 C602.87,497.17 604.83,500.72 606.3,502 C607.77,503.28 609.13,503.6 610.4,504.1 C611.67,504.6 612.73,504.37 613.9,505 C615.07,505.63 616.33,507.52 617.4,507.9 C618.47,508.28 619.33,507.03 620.3,507.3 C621.27,507.57 622.1,508.7 623.2,509.5 C624.3,510.3 625.57,512.28 626.9,512.1 C628.23,511.92 629.78,508.75 631.2,508.4 C632.62,508.05 633.98,510.45 635.4,510 C636.82,509.55 638.18,505.88 639.7,505.7 C641.22,505.52 643.08,508.8 644.5,508.9 C645.92,509 647.23,506.83 648.2,506.3 C649.17,505.77 649.5,506.5 650.3,505.7 C651.1,504.9 652.12,502.55 653,501.5 C653.88,500.45 654.8,499.58 655.6,499.4 C656.4,499.22 657.08,499.35 657.8,500.4 C658.52,501.45 659.1,503.38 659.9,505.7 C660.7,508.02 661.63,513.23 662.6,514.3 C663.57,515.37 664.65,512.82 665.7,512.1 C666.75,511.38 667.92,510.7 668.9,510 C669.88,509.3 670.8,507.98 671.6,507.9 C672.4,507.82 672.98,508.8 673.7,509.5 C674.42,510.2 675.18,512.9 675.9,512.1 C676.62,511.3 677.3,506.65 678,504.7 C678.7,502.75 679.45,500.68 680.1,500.4 C680.75,500.12 681.6,502.57 681.9,503" fill="none" stroke="#ff2b2b" stroke-width="1.4" stroke-linejoin="round" stroke-linecap="round"/>
<rect x="416.5" y="304.1" width="265.8" height="213.4" fill="none" stroke="#333333" stroke-width="1.1"/>
<line x1="411.9" y1="508.4" x2="416.5" y2="508.4" stroke="#333333" stroke-width="1.1"/>
<text x="408.8" y="511.6" font-size="12.9" text-anchor="end" font-weight="normal" fill="#1e1e1e">0,00</text>
<line x1="411.9" y1="463" x2="416.5" y2="463" stroke="#333333" stroke-width="1.1"/>
<text x="408.8" y="466.2" font-size="12.9" text-anchor="end" font-weight="normal" fill="#1e1e1e">0,01</text>
<line x1="411.9" y1="417.6" x2="416.5" y2="417.6" stroke="#333333" stroke-width="1.1"/>
<text x="408.8" y="420.8" font-size="12.9" text-anchor="end" font-weight="normal" fill="#1e1e1e">0,02</text>
<line x1="411.9" y1="372.2" x2="416.5" y2="372.2" stroke="#333333" stroke-width="1.1"/>
<text x="408.8" y="375.4" font-size="12.9" text-anchor="end" font-weight="normal" fill="#1e1e1e">0,03</text>
<line x1="411.9" y1="326.8" x2="416.5" y2="326.8" stroke="#333333" stroke-width="1.1"/>
<text x="408.8" y="330" font-size="12.9" text-anchor="end" font-weight="normal" fill="#1e1e1e">0,04</text>
<line x1="413.7" y1="485.7" x2="416.5" y2="485.7" stroke="#333333" stroke-width="1.1"/>
<line x1="413.7" y1="440.3" x2="416.5" y2="440.3" stroke="#333333" stroke-width="1.1"/>
<line x1="413.7" y1="394.9" x2="416.5" y2="394.9" stroke="#333333" stroke-width="1.1"/>
<line x1="413.7" y1="349.5" x2="416.5" y2="349.5" stroke="#333333" stroke-width="1.1"/>
<line x1="413.7" y1="304.1" x2="416.5" y2="304.1" stroke="#333333" stroke-width="1.1"/>
<line x1="416.5" y1="517.5" x2="416.5" y2="521.5" stroke="#333333" stroke-width="1.1"/>
<text x="416.5" y="534.6" font-size="12.9" text-anchor="middle" font-weight="normal" fill="#1e1e1e">1800</text>
<line x1="523.04" y1="517.5" x2="523.04" y2="521.5" stroke="#333333" stroke-width="1.1"/>
<text x="523.04" y="534.6" font-size="12.9" text-anchor="middle" font-weight="normal" fill="#1e1e1e">1600</text>
<line x1="629.58" y1="517.5" x2="629.58" y2="521.5" stroke="#333333" stroke-width="1.1"/>
<text x="629.58" y="534.6" font-size="12.9" text-anchor="middle" font-weight="normal" fill="#1e1e1e">1400</text>
<line x1="469.77" y1="517.5" x2="469.77" y2="520.3" stroke="#333333" stroke-width="1.1"/>
<line x1="576.31" y1="517.5" x2="576.31" y2="520.3" stroke="#333333" stroke-width="1.1"/>
<line x1="682.85" y1="517.5" x2="682.85" y2="520.3" stroke="#333333" stroke-width="1.1"/>
<line x1="418.3" y1="311.9" x2="444" y2="311.9" stroke="#ff2b2b" stroke-width="1.3"/>
<text x="447" y="315.5" font-size="11" text-anchor="start" font-weight="normal" fill="#1e1e1e">t1</text>
<line x1="418.3" y1="325.2" x2="444" y2="325.2" stroke="#ffb987" stroke-width="1.3"/>
<text x="447" y="328.8" font-size="11" text-anchor="start" font-weight="normal" fill="#1e1e1e">t9</text>
<text x="358.1" y="287.7" font-size="21.6" text-anchor="start" font-weight="normal" fill="#1e1e1e" textLength="27.6" lengthAdjust="spacingAndGlyphs">(d)</text>
<text transform="translate(376,461.5) rotate(-90)" x="0" y="0" font-size="17.8" fill="#1e1e1e" textLength="109.5" lengthAdjust="spacingAndGlyphs">Δ absorbance</text>
<text x="488.4" y="558.9" font-size="14.25" fill="#1e1e1e">Wavenumber (cm<tspan dx="0" dy="-6.6" font-size="8.6">-1</tspan><tspan dx="-0.4" dy="6.6">)</tspan></text>
</svg>
</body></html>
